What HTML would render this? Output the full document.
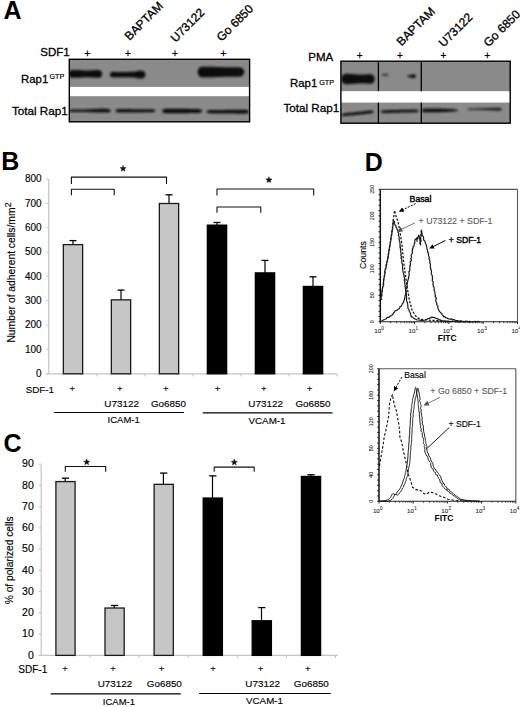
<!DOCTYPE html>
<html><head><meta charset="utf-8"><style>
html,body{margin:0;padding:0;background:#fff;}
svg{display:block;font-family:"Liberation Sans",sans-serif;}
</style></head><body>
<svg width="520" height="707" viewBox="0 0 520 707">
<defs>
<filter id="blur1" x="-20%" y="-50%" width="140%" height="200%"><feGaussianBlur stdDeviation="0.8"/></filter>
<marker id="arr" markerWidth="7" markerHeight="7" refX="1" refY="3" orient="auto" markerUnits="userSpaceOnUse"><path d="M0,3 L5,0.6 L5,5.4 Z" transform="rotate(180 2.5 3)" fill="#000"/></marker>
<marker id="arrg" markerWidth="8" markerHeight="8" refX="1" refY="3" orient="auto" markerUnits="userSpaceOnUse"><path d="M0,3 L5.5,0.4 L5.5,5.6 Z" transform="rotate(180 2.75 3)" fill="#555"/></marker>
</defs>
<rect width="520" height="707" fill="#fff"/>
<text x="3.5" y="18.5" font-size="25" text-anchor="start" font-weight="bold" fill="#000" >A</text>
<rect x="69.30" y="59.30" width="180.30" height="62.50" fill="#8a8a8a" stroke="none" stroke-width="1" />
<rect x="69.30" y="86.90" width="180.30" height="9.30" fill="#fff" stroke="none" stroke-width="1" />
<clipPath id="cl1"><rect x="69.3" y="59.3" width="180.30" height="62.50"/></clipPath>
<g clip-path="url(#cl1)"><g filter="url(#blur1)" fill="#141414">
<path d="M68.50,73.90 L69.20,71.50 L69.90,70.71 L70.61,70.25 L71.31,70.01 L72.01,69.93 L72.71,69.94 L73.41,69.95 L74.12,69.96 L74.82,69.96 L75.52,69.97 L76.22,69.98 L76.92,69.98 L77.63,69.99 L78.33,70.00 L79.03,70.03 L79.73,70.08 L80.44,70.13 L81.14,70.18 L81.84,70.23 L82.54,70.28 L83.24,70.33 L83.95,70.38 L84.65,70.43 L85.35,70.48 L86.05,70.53 L86.75,70.58 L87.46,70.58 L88.16,70.53 L88.86,70.49 L89.56,70.45 L90.26,70.41 L90.97,70.37 L91.67,70.33 L92.37,70.28 L93.07,70.24 L93.78,70.20 L94.48,70.16 L95.18,70.12 L95.88,70.10 L96.58,70.10 L97.29,70.10 L97.99,70.10 L98.69,70.10 L99.39,70.17 L100.09,70.41 L100.80,70.86 L101.50,71.62 L102.20,73.90 L102.20,73.90 L101.50,76.18 L100.80,76.94 L100.09,77.39 L99.39,77.63 L98.69,77.70 L97.99,77.70 L97.29,77.70 L96.58,77.70 L95.88,77.70 L95.18,77.68 L94.48,77.64 L93.78,77.60 L93.07,77.56 L92.37,77.52 L91.67,77.48 L90.97,77.43 L90.26,77.39 L89.56,77.35 L88.86,77.31 L88.16,77.27 L87.46,77.23 L86.75,77.22 L86.05,77.27 L85.35,77.32 L84.65,77.37 L83.95,77.42 L83.24,77.47 L82.54,77.52 L81.84,77.57 L81.14,77.62 L80.44,77.67 L79.73,77.72 L79.03,77.77 L78.33,77.80 L77.63,77.81 L76.92,77.82 L76.22,77.82 L75.52,77.83 L74.82,77.84 L74.12,77.84 L73.41,77.85 L72.71,77.86 L72.01,77.87 L71.31,77.79 L70.61,77.55 L69.90,77.09 L69.20,76.30 L68.50,73.90Z" fill="#111"/>
<path d="M109.70,74.60 L110.45,72.88 L111.19,72.32 L111.94,72.02 L112.68,71.87 L113.43,71.85 L114.17,71.86 L114.92,71.87 L115.67,71.88 L116.41,71.89 L117.16,71.90 L117.90,71.91 L118.65,71.92 L119.40,71.94 L120.14,71.95 L120.89,71.96 L121.63,71.97 L122.38,71.98 L123.12,71.99 L123.87,72.00 L124.62,71.98 L125.36,71.96 L126.11,71.94 L126.85,71.92 L127.60,71.90 L128.35,71.88 L129.09,71.86 L129.84,71.84 L130.58,71.82 L131.33,71.80 L132.07,71.77 L132.82,71.75 L133.57,71.73 L134.31,71.71 L135.06,71.62 L135.80,71.44 L136.55,71.25 L137.30,71.06 L138.04,70.88 L138.79,70.80 L139.53,70.80 L140.28,70.80 L141.03,70.80 L141.77,70.80 L142.52,70.84 L143.26,71.06 L144.01,71.49 L144.75,72.26 L145.50,74.60 L145.50,74.60 L144.75,76.94 L144.01,77.71 L143.26,78.14 L142.52,78.36 L141.77,78.40 L141.03,78.40 L140.28,78.40 L139.53,78.40 L138.79,78.40 L138.04,78.32 L137.30,78.14 L136.55,77.95 L135.80,77.76 L135.06,77.57 L134.31,77.49 L133.57,77.47 L132.82,77.45 L132.07,77.42 L131.33,77.40 L130.58,77.38 L129.84,77.36 L129.09,77.34 L128.35,77.32 L127.60,77.30 L126.85,77.28 L126.11,77.26 L125.36,77.24 L124.62,77.22 L123.87,77.20 L123.12,77.21 L122.38,77.22 L121.63,77.23 L120.89,77.24 L120.14,77.25 L119.40,77.26 L118.65,77.27 L117.90,77.29 L117.16,77.30 L116.41,77.31 L115.67,77.32 L114.92,77.33 L114.17,77.34 L113.43,77.35 L112.68,77.33 L111.94,77.18 L111.19,76.88 L110.45,76.32 L109.70,74.60Z" fill="#111"/>
<path d="M197.50,72.00 L198.48,68.75 L199.45,67.67 L200.43,67.05 L201.41,66.71 L202.39,66.61 L203.36,66.62 L204.34,66.65 L205.32,66.67 L206.29,66.69 L207.27,66.71 L208.25,66.73 L209.22,66.75 L210.20,66.77 L211.18,66.79 L212.16,66.82 L213.13,66.84 L214.11,66.87 L215.09,66.90 L216.06,66.93 L217.04,66.96 L218.02,66.98 L219.00,67.01 L219.97,67.04 L220.95,67.07 L221.93,67.09 L222.90,67.12 L223.88,67.15 L224.86,67.18 L225.84,67.20 L226.81,67.21 L227.79,67.22 L228.77,67.23 L229.74,67.24 L230.72,67.25 L231.70,67.26 L232.68,67.28 L233.65,67.29 L234.63,67.30 L235.61,67.31 L236.58,67.32 L237.56,67.33 L238.54,67.34 L239.51,67.35 L240.49,67.47 L241.47,67.78 L242.45,68.34 L243.42,69.26 L244.40,72.00 L244.40,72.00 L243.42,74.74 L242.45,75.66 L241.47,76.22 L240.49,76.53 L239.51,76.65 L238.54,76.66 L237.56,76.67 L236.58,76.68 L235.61,76.69 L234.63,76.70 L233.65,76.71 L232.68,76.72 L231.70,76.74 L230.72,76.75 L229.74,76.76 L228.77,76.77 L227.79,76.78 L226.81,76.79 L225.84,76.80 L224.86,76.82 L223.88,76.85 L222.90,76.88 L221.93,76.91 L220.95,76.93 L219.97,76.96 L219.00,76.99 L218.02,77.02 L217.04,77.04 L216.06,77.07 L215.09,77.10 L214.11,77.13 L213.13,77.16 L212.16,77.18 L211.18,77.21 L210.20,77.23 L209.22,77.25 L208.25,77.27 L207.27,77.29 L206.29,77.31 L205.32,77.33 L204.34,77.35 L203.36,77.38 L202.39,77.39 L201.41,77.29 L200.43,76.95 L199.45,76.33 L198.48,75.25 L197.50,72.00Z" fill="#111"/>
<path d="M68.50,110.70 L69.38,109.89 L70.27,109.62 L71.15,109.48 L72.03,109.41 L72.92,109.40 L73.80,109.40 L74.68,109.40 L75.57,109.40 L76.45,109.40 L77.33,109.40 L78.22,109.40 L79.10,109.40 L79.98,109.40 L80.87,109.40 L81.75,109.40 L82.63,109.40 L83.52,109.40 L84.40,109.40 L85.28,109.40 L86.17,109.37 L87.05,109.34 L87.93,109.30 L88.82,109.26 L89.70,109.23 L90.58,109.19 L91.47,109.16 L92.35,109.12 L93.23,109.09 L94.12,109.05 L95.00,109.01 L95.88,108.98 L96.77,108.94 L97.65,108.91 L98.53,108.87 L99.42,108.84 L100.30,108.80 L101.18,108.81 L102.07,108.82 L102.95,108.83 L103.83,108.83 L104.72,108.84 L105.60,108.85 L106.48,108.86 L107.37,108.88 L108.25,108.98 L109.13,109.19 L110.02,109.57 L110.90,110.70 L110.90,110.70 L110.02,111.83 L109.13,112.21 L108.25,112.42 L107.37,112.52 L106.48,112.54 L105.60,112.55 L104.72,112.56 L103.83,112.57 L102.95,112.58 L102.07,112.58 L101.18,112.59 L100.30,112.60 L99.42,112.56 L98.53,112.53 L97.65,112.49 L96.77,112.46 L95.88,112.42 L95.00,112.39 L94.12,112.35 L93.23,112.31 L92.35,112.28 L91.47,112.24 L90.58,112.21 L89.70,112.17 L88.82,112.14 L87.93,112.10 L87.05,112.06 L86.17,112.03 L85.28,112.00 L84.40,112.00 L83.52,112.00 L82.63,112.00 L81.75,112.00 L80.87,112.00 L79.98,112.00 L79.10,112.00 L78.22,112.00 L77.33,112.00 L76.45,112.00 L75.57,112.00 L74.68,112.00 L73.80,112.00 L72.92,112.00 L72.03,111.99 L71.15,111.92 L70.27,111.78 L69.38,111.51 L68.50,110.70Z" fill="#111"/>
<path d="M115.20,110.80 L116.04,109.80 L116.88,109.46 L117.73,109.25 L118.57,109.13 L119.41,109.06 L120.25,109.04 L121.09,109.05 L121.93,109.06 L122.78,109.06 L123.62,109.07 L124.46,109.08 L125.30,109.08 L126.14,109.09 L126.98,109.10 L127.83,109.10 L128.67,109.11 L129.51,109.12 L130.35,109.12 L131.19,109.13 L132.03,109.14 L132.88,109.15 L133.72,109.15 L134.56,109.16 L135.40,109.17 L136.24,109.17 L137.08,109.18 L137.93,109.19 L138.77,109.19 L139.61,109.20 L140.45,109.21 L141.29,109.21 L142.13,109.22 L142.97,109.22 L143.82,109.23 L144.66,109.23 L145.50,109.24 L146.34,109.24 L147.18,109.25 L148.03,109.25 L148.87,109.26 L149.71,109.26 L150.55,109.27 L151.39,109.29 L152.23,109.36 L153.07,109.48 L153.92,109.67 L154.76,109.96 L155.60,110.80 L155.60,110.80 L154.76,111.64 L153.92,111.93 L153.07,112.12 L152.23,112.24 L151.39,112.31 L150.55,112.33 L149.71,112.34 L148.87,112.34 L148.03,112.35 L147.18,112.35 L146.34,112.36 L145.50,112.36 L144.66,112.37 L143.82,112.37 L142.97,112.38 L142.13,112.38 L141.29,112.39 L140.45,112.39 L139.61,112.40 L138.77,112.41 L137.93,112.41 L137.08,112.42 L136.24,112.43 L135.40,112.43 L134.56,112.44 L133.72,112.45 L132.88,112.45 L132.03,112.46 L131.19,112.47 L130.35,112.47 L129.51,112.48 L128.67,112.49 L127.83,112.50 L126.98,112.50 L126.14,112.51 L125.30,112.52 L124.46,112.52 L123.62,112.53 L122.78,112.54 L121.93,112.54 L121.09,112.55 L120.25,112.56 L119.41,112.54 L118.57,112.47 L117.73,112.35 L116.88,112.14 L116.04,111.80 L115.20,110.80Z" fill="#111"/>
<path d="M161.90,111.00 L162.75,109.78 L163.59,109.35 L164.44,109.09 L165.28,108.92 L166.13,108.83 L166.97,108.80 L167.82,108.80 L168.67,108.80 L169.51,108.80 L170.36,108.80 L171.20,108.80 L172.05,108.80 L172.90,108.80 L173.74,108.80 L174.59,108.80 L175.43,108.80 L176.28,108.80 L177.12,108.80 L177.97,108.80 L178.82,108.80 L179.66,108.80 L180.51,108.80 L181.35,108.80 L182.20,108.80 L183.05,108.80 L183.89,108.80 L184.74,108.80 L185.58,108.80 L186.43,108.80 L187.28,108.83 L188.12,108.85 L188.97,108.87 L189.81,108.89 L190.66,108.91 L191.50,108.93 L192.35,108.95 L193.20,108.97 L194.04,108.99 L194.89,109.01 L195.73,109.03 L196.58,109.05 L197.43,109.08 L198.27,109.12 L199.12,109.22 L199.96,109.38 L200.81,109.62 L201.65,109.99 L202.50,111.00 L202.50,111.00 L201.65,112.01 L200.81,112.38 L199.96,112.62 L199.12,112.78 L198.27,112.88 L197.43,112.92 L196.58,112.95 L195.73,112.97 L194.89,112.99 L194.04,113.01 L193.20,113.03 L192.35,113.05 L191.50,113.07 L190.66,113.09 L189.81,113.11 L188.97,113.13 L188.12,113.15 L187.28,113.17 L186.43,113.20 L185.58,113.20 L184.74,113.20 L183.89,113.20 L183.05,113.20 L182.20,113.20 L181.35,113.20 L180.51,113.20 L179.66,113.20 L178.82,113.20 L177.97,113.20 L177.12,113.20 L176.28,113.20 L175.43,113.20 L174.59,113.20 L173.74,113.20 L172.90,113.20 L172.05,113.20 L171.20,113.20 L170.36,113.20 L169.51,113.20 L168.67,113.20 L167.82,113.20 L166.97,113.20 L166.13,113.17 L165.28,113.08 L164.44,112.91 L163.59,112.65 L162.75,112.22 L161.90,111.00Z" fill="#111"/>
<path d="M206.30,111.70 L207.20,110.78 L208.10,110.45 L209.00,110.25 L209.90,110.12 L210.80,110.06 L211.70,110.04 L212.60,110.03 L213.50,110.02 L214.40,110.01 L215.30,110.00 L216.20,109.99 L217.10,109.98 L218.00,109.96 L218.90,109.95 L219.80,109.94 L220.70,109.93 L221.60,109.92 L222.50,109.91 L223.40,109.90 L224.30,109.89 L225.20,109.88 L226.10,109.87 L227.00,109.86 L227.90,109.85 L228.80,109.84 L229.70,109.83 L230.60,109.82 L231.50,109.81 L232.40,109.80 L233.30,109.79 L234.20,109.79 L235.10,109.78 L236.00,109.78 L236.90,109.77 L237.80,109.77 L238.70,109.76 L239.60,109.76 L240.50,109.75 L241.40,109.75 L242.30,109.74 L243.20,109.74 L244.10,109.73 L245.00,109.74 L245.90,109.80 L246.80,109.94 L247.70,110.17 L248.60,110.56 L249.50,111.70 L249.50,111.70 L248.60,112.84 L247.70,113.23 L246.80,113.46 L245.90,113.60 L245.00,113.66 L244.10,113.67 L243.20,113.66 L242.30,113.66 L241.40,113.65 L240.50,113.65 L239.60,113.64 L238.70,113.64 L237.80,113.63 L236.90,113.63 L236.00,113.62 L235.10,113.62 L234.20,113.61 L233.30,113.61 L232.40,113.60 L231.50,113.59 L230.60,113.58 L229.70,113.57 L228.80,113.56 L227.90,113.55 L227.00,113.54 L226.10,113.53 L225.20,113.52 L224.30,113.51 L223.40,113.50 L222.50,113.49 L221.60,113.48 L220.70,113.47 L219.80,113.46 L218.90,113.45 L218.00,113.44 L217.10,113.42 L216.20,113.41 L215.30,113.40 L214.40,113.39 L213.50,113.38 L212.60,113.37 L211.70,113.36 L210.80,113.34 L209.90,113.28 L209.00,113.15 L208.10,112.95 L207.20,112.62 L206.30,111.70Z" fill="#111"/>
</g></g>
<rect x="69.30" y="59.30" width="180.30" height="62.50" fill="none" stroke="#000" stroke-width="1.4" />
<text x="40.3" y="56.2" font-size="11.5" text-anchor="start" font-weight="normal" fill="#000" stroke="#000" stroke-width="0.299" >SDF1</text>
<text x="87.4" y="56.8" font-size="10" text-anchor="middle" font-weight="normal" fill="#000" stroke="#000" stroke-width="0.26" >+</text>
<text x="127.9" y="56.8" font-size="10" text-anchor="middle" font-weight="normal" fill="#000" stroke="#000" stroke-width="0.26" >+</text>
<text x="174.9" y="56.8" font-size="10" text-anchor="middle" font-weight="normal" fill="#000" stroke="#000" stroke-width="0.26" >+</text>
<text x="223.4" y="56.8" font-size="10" text-anchor="middle" font-weight="normal" fill="#000" stroke="#000" stroke-width="0.26" >+</text>
<text x="21.0" y="82.8" font-size="11.4" text-anchor="start" font-weight="normal" fill="#000" stroke="#000" stroke-width="0.296" >Rap1</text>
<text x="49.5" y="79.3" font-size="7.2" text-anchor="start" font-weight="normal" fill="#000" stroke="#000" stroke-width="0.187" >GTP</text>
<text x="11.9" y="114.6" font-size="11.7" text-anchor="start" font-weight="normal" fill="#000" stroke="#000" stroke-width="0.304" >Total Rap1</text>
<text x="129.5" y="41" font-size="12.0" text-anchor="start" font-weight="normal" fill="#000" stroke="#000" stroke-width="0.312" transform="rotate(-45 129.5 41)">BAPTAM</text>
<text x="175.5" y="43" font-size="12.0" text-anchor="start" font-weight="normal" fill="#000" stroke="#000" stroke-width="0.312" transform="rotate(-45 175.5 43)">U73122</text>
<text x="221.5" y="42" font-size="12.0" text-anchor="start" font-weight="normal" fill="#000" stroke="#000" stroke-width="0.312" transform="rotate(-45 221.5 42)">Go 6850</text>
<rect x="340.90" y="61.20" width="169.30" height="62.00" fill="#8a8a8a" stroke="none" stroke-width="1" />
<rect x="340.90" y="91.20" width="169.30" height="11.40" fill="#fff" stroke="none" stroke-width="1" />
<clipPath id="cl2"><rect x="340.9" y="61.2" width="169.30" height="62.00"/></clipPath>
<g clip-path="url(#cl2)"><g filter="url(#blur1)" fill="#141414">
<path d="M341.00,79.00 L341.70,76.39 L342.41,75.45 L343.11,74.83 L343.82,74.39 L344.52,74.09 L345.23,73.89 L345.93,73.78 L346.63,73.74 L347.34,73.78 L348.04,73.82 L348.75,73.86 L349.45,73.90 L350.15,73.94 L350.86,73.98 L351.56,74.03 L352.27,74.07 L352.97,74.11 L353.68,74.15 L354.38,74.19 L355.08,74.23 L355.79,74.28 L356.49,74.32 L357.20,74.36 L357.90,74.40 L358.60,74.44 L359.31,74.48 L360.01,74.53 L360.72,74.57 L361.42,74.59 L362.12,74.56 L362.83,74.53 L363.53,74.49 L364.24,74.46 L364.94,74.43 L365.65,74.39 L366.35,74.36 L367.05,74.33 L367.76,74.29 L368.46,74.26 L369.17,74.23 L369.87,74.20 L370.57,74.21 L371.28,74.32 L371.98,74.55 L372.69,74.93 L373.39,75.51 L374.10,76.42 L374.80,79.00 L374.80,79.00 L374.10,81.58 L373.39,82.49 L372.69,83.07 L371.98,83.45 L371.28,83.68 L370.57,83.79 L369.87,83.80 L369.17,83.77 L368.46,83.74 L367.76,83.71 L367.05,83.67 L366.35,83.64 L365.65,83.61 L364.94,83.57 L364.24,83.54 L363.53,83.51 L362.83,83.47 L362.12,83.44 L361.42,83.41 L360.72,83.43 L360.01,83.47 L359.31,83.52 L358.60,83.56 L357.90,83.60 L357.20,83.64 L356.49,83.68 L355.79,83.72 L355.08,83.77 L354.38,83.81 L353.68,83.85 L352.97,83.89 L352.27,83.93 L351.56,83.97 L350.86,84.02 L350.15,84.06 L349.45,84.10 L348.75,84.14 L348.04,84.18 L347.34,84.22 L346.63,84.26 L345.93,84.22 L345.23,84.11 L344.52,83.91 L343.82,83.61 L343.11,83.17 L342.41,82.55 L341.70,81.61 L341.00,79.00Z" fill="#111"/>
<path d="M381.50,74.80 L381.65,74.56 L381.80,74.47 L381.96,74.39 L382.11,74.33 L382.26,74.28 L382.41,74.23 L382.56,74.18 L382.72,74.14 L382.87,74.11 L383.02,74.07 L383.17,74.04 L383.32,74.01 L383.48,73.98 L383.63,73.96 L383.78,73.93 L383.93,73.91 L384.09,73.89 L384.24,73.87 L384.39,73.86 L384.54,73.84 L384.69,73.83 L384.85,73.82 L385.00,73.81 L385.15,73.80 L385.30,73.81 L385.45,73.82 L385.61,73.83 L385.76,73.84 L385.91,73.86 L386.06,73.87 L386.21,73.89 L386.37,73.91 L386.52,73.93 L386.67,73.96 L386.82,73.98 L386.98,74.01 L387.13,74.04 L387.28,74.07 L387.43,74.11 L387.58,74.14 L387.74,74.18 L387.89,74.23 L388.04,74.28 L388.19,74.33 L388.34,74.39 L388.50,74.47 L388.65,74.56 L388.80,74.80 L388.80,74.80 L388.65,75.04 L388.50,75.13 L388.34,75.21 L388.19,75.27 L388.04,75.32 L387.89,75.37 L387.74,75.42 L387.58,75.46 L387.43,75.49 L387.28,75.53 L387.13,75.56 L386.98,75.59 L386.82,75.62 L386.67,75.64 L386.52,75.67 L386.37,75.69 L386.21,75.71 L386.06,75.73 L385.91,75.74 L385.76,75.76 L385.61,75.77 L385.45,75.78 L385.30,75.79 L385.15,75.80 L385.00,75.79 L384.85,75.78 L384.69,75.77 L384.54,75.76 L384.39,75.74 L384.24,75.73 L384.09,75.71 L383.93,75.69 L383.78,75.67 L383.63,75.64 L383.48,75.62 L383.32,75.59 L383.17,75.56 L383.02,75.53 L382.87,75.49 L382.72,75.46 L382.56,75.42 L382.41,75.37 L382.26,75.32 L382.11,75.27 L381.96,75.21 L381.80,75.13 L381.65,75.04 L381.50,74.80Z" fill="#2a2a2a"/>
<path d="M407.20,76.20 L407.38,75.89 L407.56,75.76 L407.74,75.65 L407.93,75.56 L408.11,75.48 L408.29,75.41 L408.47,75.35 L408.65,75.28 L408.83,75.23 L409.01,75.18 L409.19,75.14 L409.38,75.10 L409.56,75.06 L409.74,75.04 L409.92,75.01 L410.10,74.98 L410.28,74.96 L410.46,74.93 L410.64,74.91 L410.82,74.86 L411.01,74.81 L411.19,74.76 L411.37,74.72 L411.55,74.67 L411.73,74.62 L411.91,74.57 L412.09,74.52 L412.27,74.47 L412.46,74.42 L412.64,74.38 L412.82,74.33 L413.00,74.28 L413.18,74.23 L413.36,74.20 L413.54,74.20 L413.72,74.22 L413.91,74.24 L414.09,74.28 L414.27,74.32 L414.45,74.38 L414.63,74.46 L414.81,74.55 L414.99,74.66 L415.17,74.79 L415.36,74.95 L415.54,75.16 L415.72,75.45 L415.90,76.20 L415.90,76.20 L415.72,76.95 L415.54,77.24 L415.36,77.45 L415.17,77.61 L414.99,77.74 L414.81,77.85 L414.63,77.94 L414.45,78.02 L414.27,78.08 L414.09,78.12 L413.91,78.16 L413.72,78.18 L413.54,78.20 L413.36,78.20 L413.18,78.17 L413.00,78.12 L412.82,78.07 L412.64,78.03 L412.46,77.98 L412.27,77.93 L412.09,77.88 L411.91,77.83 L411.73,77.78 L411.55,77.73 L411.37,77.68 L411.19,77.64 L411.01,77.59 L410.82,77.54 L410.64,77.49 L410.46,77.47 L410.28,77.44 L410.10,77.42 L409.92,77.39 L409.74,77.36 L409.56,77.34 L409.38,77.30 L409.19,77.26 L409.01,77.22 L408.83,77.17 L408.65,77.12 L408.47,77.05 L408.29,76.99 L408.11,76.92 L407.93,76.84 L407.74,76.75 L407.56,76.64 L407.38,76.51 L407.20,76.20Z" fill="#111"/>
<path d="M341.50,115.00 L342.17,114.15 L342.85,113.81 L343.52,113.57 L344.19,113.39 L344.86,113.26 L345.54,113.17 L346.21,113.10 L346.88,113.03 L347.56,112.96 L348.23,112.89 L348.90,112.82 L349.57,112.75 L350.25,112.68 L350.92,112.61 L351.59,112.54 L352.27,112.47 L352.94,112.40 L353.61,112.33 L354.29,112.25 L354.96,112.18 L355.63,112.11 L356.30,112.04 L356.98,111.97 L357.65,111.90 L358.32,111.83 L359.00,111.76 L359.67,111.69 L360.34,111.62 L361.01,111.55 L361.69,111.47 L362.36,111.40 L363.03,111.33 L363.71,111.26 L364.38,111.19 L365.05,111.12 L365.73,111.05 L366.40,110.98 L367.07,110.91 L367.74,110.84 L368.42,110.77 L369.09,110.70 L369.76,110.62 L370.44,110.57 L371.11,110.57 L371.78,110.61 L372.45,110.72 L373.13,110.94 L373.80,111.70 L373.80,111.70 L373.13,112.60 L372.45,112.96 L371.78,113.20 L371.11,113.38 L370.44,113.51 L369.76,113.60 L369.09,113.67 L368.42,113.73 L367.74,113.80 L367.07,113.87 L366.40,113.93 L365.73,114.00 L365.05,114.07 L364.38,114.13 L363.71,114.20 L363.03,114.27 L362.36,114.33 L361.69,114.40 L361.01,114.47 L360.34,114.53 L359.67,114.60 L359.00,114.67 L358.32,114.73 L357.65,114.80 L356.98,114.87 L356.30,114.93 L355.63,115.00 L354.96,115.07 L354.29,115.13 L353.61,115.20 L352.94,115.27 L352.27,115.33 L351.59,115.40 L350.92,115.47 L350.25,115.53 L349.57,115.60 L348.90,115.67 L348.23,115.73 L347.56,115.80 L346.88,115.87 L346.21,115.93 L345.54,116.00 L344.86,116.05 L344.19,116.06 L343.52,116.02 L342.85,115.91 L342.17,115.71 L341.50,115.00Z" fill="#111"/>
<path d="M380.70,111.70 L381.49,110.85 L382.28,110.55 L383.07,110.37 L383.86,110.26 L384.65,110.21 L385.44,110.19 L386.23,110.17 L387.02,110.15 L387.81,110.13 L388.60,110.11 L389.39,110.09 L390.18,110.08 L390.96,110.06 L391.75,110.04 L392.54,110.02 L393.33,110.00 L394.12,109.98 L394.91,109.96 L395.70,109.94 L396.49,109.93 L397.28,109.91 L398.07,109.89 L398.86,109.87 L399.65,109.85 L400.44,109.83 L401.23,109.81 L402.02,109.80 L402.81,109.78 L403.60,109.76 L404.39,109.74 L405.18,109.72 L405.97,109.70 L406.76,109.68 L407.55,109.66 L408.34,109.65 L409.12,109.63 L409.91,109.61 L410.70,109.59 L411.49,109.57 L412.28,109.55 L413.07,109.53 L413.86,109.51 L414.65,109.50 L415.44,109.51 L416.23,109.58 L417.02,109.73 L417.81,109.99 L418.60,110.80 L418.60,110.80 L417.81,111.66 L417.02,111.95 L416.23,112.14 L415.44,112.25 L414.65,112.30 L413.86,112.31 L413.07,112.33 L412.28,112.35 L411.49,112.37 L410.70,112.39 L409.91,112.41 L409.12,112.43 L408.34,112.45 L407.55,112.46 L406.76,112.48 L405.97,112.50 L405.18,112.52 L404.39,112.54 L403.60,112.56 L402.81,112.58 L402.02,112.60 L401.23,112.61 L400.44,112.63 L399.65,112.65 L398.86,112.67 L398.07,112.69 L397.28,112.71 L396.49,112.73 L395.70,112.74 L394.91,112.76 L394.12,112.78 L393.33,112.80 L392.54,112.82 L391.75,112.84 L390.96,112.86 L390.18,112.88 L389.39,112.89 L388.60,112.91 L387.81,112.93 L387.02,112.95 L386.23,112.97 L385.44,112.99 L384.65,113.01 L383.86,112.99 L383.07,112.92 L382.28,112.78 L381.49,112.52 L380.70,111.70Z" fill="#111"/>
<path d="M421.50,110.40 L422.25,109.40 L423.01,109.04 L423.76,108.81 L424.52,108.66 L425.27,108.56 L426.02,108.51 L426.78,108.50 L427.53,108.50 L428.29,108.50 L429.04,108.50 L429.80,108.50 L430.55,108.50 L431.30,108.50 L432.06,108.50 L432.81,108.50 L433.57,108.50 L434.32,108.50 L435.07,108.50 L435.83,108.50 L436.58,108.52 L437.34,108.55 L438.09,108.57 L438.85,108.60 L439.60,108.62 L440.35,108.65 L441.11,108.68 L441.86,108.70 L442.62,108.73 L443.37,108.76 L444.12,108.78 L444.88,108.81 L445.63,108.83 L446.39,108.86 L447.14,108.89 L447.90,108.91 L448.65,108.94 L449.40,108.96 L450.16,108.99 L450.91,109.03 L451.67,109.07 L452.42,109.11 L453.18,109.16 L453.93,109.23 L454.68,109.33 L455.44,109.46 L456.19,109.62 L456.95,109.85 L457.70,110.40 L457.70,110.40 L456.95,110.95 L456.19,111.18 L455.44,111.34 L454.68,111.47 L453.93,111.57 L453.18,111.64 L452.42,111.69 L451.67,111.73 L450.91,111.78 L450.16,111.81 L449.40,111.84 L448.65,111.86 L447.90,111.89 L447.14,111.91 L446.39,111.94 L445.63,111.97 L444.88,111.99 L444.12,112.02 L443.37,112.04 L442.62,112.07 L441.86,112.10 L441.11,112.12 L440.35,112.15 L439.60,112.18 L438.85,112.20 L438.09,112.23 L437.34,112.25 L436.58,112.28 L435.83,112.30 L435.07,112.30 L434.32,112.30 L433.57,112.30 L432.81,112.30 L432.06,112.30 L431.30,112.30 L430.55,112.30 L429.80,112.30 L429.04,112.30 L428.29,112.30 L427.53,112.30 L426.78,112.30 L426.02,112.29 L425.27,112.24 L424.52,112.14 L423.76,111.99 L423.01,111.76 L422.25,111.40 L421.50,110.40Z" fill="#111"/>
<path d="M467.20,109.20 L467.92,108.79 L468.64,108.65 L469.36,108.55 L470.08,108.49 L470.80,108.45 L471.52,108.44 L472.25,108.43 L472.97,108.42 L473.69,108.41 L474.41,108.40 L475.13,108.39 L475.85,108.38 L476.57,108.36 L477.29,108.35 L478.01,108.34 L478.73,108.33 L479.45,108.32 L480.18,108.31 L480.90,108.30 L481.62,108.28 L482.34,108.25 L483.06,108.23 L483.78,108.20 L484.50,108.17 L485.22,108.15 L485.94,108.12 L486.66,108.10 L487.38,108.07 L488.10,108.04 L488.82,108.02 L489.55,107.99 L490.27,107.97 L490.99,107.94 L491.71,107.91 L492.43,107.89 L493.15,107.86 L493.87,107.84 L494.59,107.81 L495.31,107.78 L496.03,107.75 L496.75,107.72 L497.48,107.69 L498.20,107.66 L498.92,107.69 L499.64,107.77 L500.36,107.94 L501.08,108.24 L501.80,109.20 L501.80,109.20 L501.08,110.16 L500.36,110.46 L499.64,110.63 L498.92,110.71 L498.20,110.74 L497.48,110.71 L496.75,110.68 L496.03,110.65 L495.31,110.62 L494.59,110.59 L493.87,110.56 L493.15,110.54 L492.43,110.51 L491.71,110.49 L490.99,110.46 L490.27,110.43 L489.55,110.41 L488.82,110.38 L488.10,110.36 L487.38,110.33 L486.66,110.30 L485.94,110.28 L485.22,110.25 L484.50,110.23 L483.78,110.20 L483.06,110.17 L482.34,110.15 L481.62,110.12 L480.90,110.10 L480.18,110.09 L479.45,110.08 L478.73,110.07 L478.01,110.06 L477.29,110.05 L476.57,110.04 L475.85,110.03 L475.13,110.01 L474.41,110.00 L473.69,109.99 L472.97,109.98 L472.25,109.97 L471.52,109.96 L470.80,109.95 L470.08,109.91 L469.36,109.85 L468.64,109.75 L467.92,109.61 L467.20,109.20Z" fill="#202020"/>
</g></g>
<rect x="340.90" y="61.20" width="169.30" height="62.00" fill="none" stroke="#000" stroke-width="1.4" />
<line x1="378.40" y1="61.20" x2="378.40" y2="91.20" stroke="#000" stroke-width="1.3" />
<line x1="378.40" y1="102.60" x2="378.40" y2="123.20" stroke="#000" stroke-width="1.3" />
<line x1="421.30" y1="61.20" x2="421.30" y2="91.20" stroke="#000" stroke-width="1.3" />
<line x1="421.30" y1="102.60" x2="421.30" y2="123.20" stroke="#000" stroke-width="1.3" />
<text x="308.3" y="60.8" font-size="11.5" text-anchor="start" font-weight="normal" fill="#000" stroke="#000" stroke-width="0.299" >PMA</text>
<text x="359.6" y="58.9" font-size="10" text-anchor="middle" font-weight="normal" fill="#000" stroke="#000" stroke-width="0.26" >+</text>
<text x="400" y="58.9" font-size="10" text-anchor="middle" font-weight="normal" fill="#000" stroke="#000" stroke-width="0.26" >+</text>
<text x="443.5" y="58.9" font-size="10" text-anchor="middle" font-weight="normal" fill="#000" stroke="#000" stroke-width="0.26" >+</text>
<text x="487.5" y="58.9" font-size="10" text-anchor="middle" font-weight="normal" fill="#000" stroke="#000" stroke-width="0.26" >+</text>
<text x="290.0" y="86.9" font-size="11.4" text-anchor="start" font-weight="normal" fill="#000" stroke="#000" stroke-width="0.296" >Rap1</text>
<text x="319.2" y="84.6" font-size="7.2" text-anchor="start" font-weight="normal" fill="#000" stroke="#000" stroke-width="0.187" >GTP</text>
<text x="283.4" y="112.3" font-size="11.7" text-anchor="start" font-weight="normal" fill="#000" stroke="#000" stroke-width="0.304" >Total Rap1</text>
<text x="401.5" y="46.5" font-size="12.0" text-anchor="start" font-weight="normal" fill="#000" stroke="#000" stroke-width="0.312" transform="rotate(-45 401.5 46.5)">BAPTAM</text>
<text x="443.5" y="47.8" font-size="12.0" text-anchor="start" font-weight="normal" fill="#000" stroke="#000" stroke-width="0.312" transform="rotate(-45 443.5 47.8)">U73122</text>
<text x="488.5" y="47.5" font-size="12.0" text-anchor="start" font-weight="normal" fill="#000" stroke="#000" stroke-width="0.312" transform="rotate(-45 488.5 47.5)">Go 6850</text>
<text x="1.3" y="170" font-size="25" text-anchor="start" font-weight="bold" fill="#000" >B</text>
<line x1="48.80" y1="179.16" x2="48.80" y2="373.80" stroke="#c4c4c4" stroke-width="1.2" />
<line x1="46.20" y1="373.80" x2="48.80" y2="373.80" stroke="#c4c4c4" stroke-width="1" />
<text x="41.6" y="377.1" font-size="10" text-anchor="end" font-weight="normal" fill="#000" stroke="#000" stroke-width="0.14" >0</text>
<line x1="46.20" y1="349.47" x2="48.80" y2="349.47" stroke="#c4c4c4" stroke-width="1" />
<text x="41.6" y="352.77000000000004" font-size="10" text-anchor="end" font-weight="normal" fill="#000" stroke="#000" stroke-width="0.14" >100</text>
<line x1="46.20" y1="325.14" x2="48.80" y2="325.14" stroke="#c4c4c4" stroke-width="1" />
<text x="41.6" y="328.44" font-size="10" text-anchor="end" font-weight="normal" fill="#000" stroke="#000" stroke-width="0.14" >200</text>
<line x1="46.20" y1="300.81" x2="48.80" y2="300.81" stroke="#c4c4c4" stroke-width="1" />
<text x="41.6" y="304.11" font-size="10" text-anchor="end" font-weight="normal" fill="#000" stroke="#000" stroke-width="0.14" >300</text>
<line x1="46.20" y1="276.48" x2="48.80" y2="276.48" stroke="#c4c4c4" stroke-width="1" />
<text x="41.6" y="279.78000000000003" font-size="10" text-anchor="end" font-weight="normal" fill="#000" stroke="#000" stroke-width="0.14" >400</text>
<line x1="46.20" y1="252.15" x2="48.80" y2="252.15" stroke="#c4c4c4" stroke-width="1" />
<text x="41.6" y="255.45000000000005" font-size="10" text-anchor="end" font-weight="normal" fill="#000" stroke="#000" stroke-width="0.14" >500</text>
<line x1="46.20" y1="227.82" x2="48.80" y2="227.82" stroke="#c4c4c4" stroke-width="1" />
<text x="41.6" y="231.12000000000003" font-size="10" text-anchor="end" font-weight="normal" fill="#000" stroke="#000" stroke-width="0.14" >600</text>
<line x1="46.20" y1="203.49" x2="48.80" y2="203.49" stroke="#c4c4c4" stroke-width="1" />
<text x="41.6" y="206.79000000000002" font-size="10" text-anchor="end" font-weight="normal" fill="#000" stroke="#000" stroke-width="0.14" >700</text>
<line x1="46.20" y1="179.16" x2="48.80" y2="179.16" stroke="#c4c4c4" stroke-width="1" />
<text x="41.6" y="182.46000000000004" font-size="10" text-anchor="end" font-weight="normal" fill="#000" stroke="#000" stroke-width="0.14" >800</text>
<line x1="46.20" y1="373.80" x2="337.00" y2="373.80" stroke="#c4c4c4" stroke-width="1.2" />
<line x1="97.00" y1="373.80" x2="97.00" y2="376.40" stroke="#c4c4c4" stroke-width="1" />
<line x1="145.00" y1="373.80" x2="145.00" y2="376.40" stroke="#c4c4c4" stroke-width="1" />
<line x1="193.00" y1="373.80" x2="193.00" y2="376.40" stroke="#c4c4c4" stroke-width="1" />
<line x1="241.00" y1="373.80" x2="241.00" y2="376.40" stroke="#c4c4c4" stroke-width="1" />
<line x1="289.00" y1="373.80" x2="289.00" y2="376.40" stroke="#c4c4c4" stroke-width="1" />
<line x1="337.00" y1="373.80" x2="337.00" y2="376.40" stroke="#c4c4c4" stroke-width="1" />
<line x1="73.00" y1="240.59" x2="73.00" y2="244.61" stroke="#000" stroke-width="1.2" />
<line x1="69.50" y1="240.59" x2="76.50" y2="240.59" stroke="#000" stroke-width="1.3" />
<rect x="63.35" y="244.61" width="19.30" height="129.19" fill="#c6c6c6" stroke="#1a1a1a" stroke-width="1.3" />
<line x1="121.00" y1="290.10" x2="121.00" y2="299.84" stroke="#000" stroke-width="1.2" />
<line x1="117.50" y1="290.10" x2="124.50" y2="290.10" stroke="#000" stroke-width="1.3" />
<rect x="111.35" y="299.84" width="19.30" height="73.96" fill="#c6c6c6" stroke="#1a1a1a" stroke-width="1.3" />
<line x1="169.00" y1="194.80" x2="169.00" y2="203.49" stroke="#000" stroke-width="1.2" />
<line x1="165.50" y1="194.80" x2="172.50" y2="194.80" stroke="#000" stroke-width="1.3" />
<rect x="159.35" y="203.49" width="19.30" height="170.31" fill="#c6c6c6" stroke="#1a1a1a" stroke-width="1.3" />
<line x1="217.00" y1="222.47" x2="217.00" y2="225.14" stroke="#000" stroke-width="1.2" />
<line x1="213.50" y1="222.47" x2="220.50" y2="222.47" stroke="#000" stroke-width="1.3" />
<rect x="207.35" y="225.14" width="19.30" height="148.66" fill="#000" stroke="#000" stroke-width="1.3" />
<line x1="265.00" y1="260.42" x2="265.00" y2="272.90" stroke="#000" stroke-width="1.2" />
<line x1="261.50" y1="260.42" x2="268.50" y2="260.42" stroke="#000" stroke-width="1.3" />
<rect x="255.35" y="272.90" width="19.30" height="100.90" fill="#000" stroke="#000" stroke-width="1.3" />
<line x1="313.00" y1="276.80" x2="313.00" y2="286.46" stroke="#000" stroke-width="1.2" />
<line x1="309.50" y1="276.80" x2="316.50" y2="276.80" stroke="#000" stroke-width="1.3" />
<rect x="303.35" y="286.46" width="19.30" height="87.34" fill="#000" stroke="#000" stroke-width="1.3" />
<polyline points="71.4,184.0 71.4,177.1 166.5,177.1 166.5,184.0" fill="none" stroke="#111" stroke-width="1.1" stroke-linejoin="round" />
<polyline points="71.4,195.3 71.4,189.3 114.2,189.3 114.2,195.3" fill="none" stroke="#111" stroke-width="1.1" stroke-linejoin="round" />
<polyline points="217.0,195.4 217.0,189.0 313.7,189.0 313.7,195.4" fill="none" stroke="#111" stroke-width="1.1" stroke-linejoin="round" />
<polyline points="217.0,212.7 217.0,207.0 260.8,207.0 260.8,212.7" fill="none" stroke="#111" stroke-width="1.1" stroke-linejoin="round" />
<path d="M123.10,165.33 L123.95,167.46 L126.24,167.61 L124.48,169.08 L125.04,171.30 L123.10,170.08 L121.16,171.30 L121.72,169.08 L119.96,167.61 L122.25,167.46Z" fill="#111" stroke="#111" stroke-width="0.4" stroke-linejoin="round"/>
<path d="M268.90,176.63 L269.75,178.76 L272.04,178.91 L270.28,180.38 L270.84,182.60 L268.90,181.38 L266.96,182.60 L267.52,180.38 L265.76,178.91 L268.05,178.76Z" fill="#111" stroke="#111" stroke-width="0.4" stroke-linejoin="round"/>
<text x="25.7" y="393.1" font-size="9.8" text-anchor="start" font-weight="normal" fill="#000" stroke="#000" stroke-width="0.137" >SDF-1</text>
<text x="72.3" y="391.6" font-size="9.5" text-anchor="middle" font-weight="normal" fill="#000" stroke="#000" stroke-width="0.133" >+</text>
<text x="119.9" y="391.6" font-size="9.5" text-anchor="middle" font-weight="normal" fill="#000" stroke="#000" stroke-width="0.133" >+</text>
<text x="165.8" y="391.6" font-size="9.5" text-anchor="middle" font-weight="normal" fill="#000" stroke="#000" stroke-width="0.133" >+</text>
<text x="217.5" y="391.6" font-size="9.5" text-anchor="middle" font-weight="normal" fill="#000" stroke="#000" stroke-width="0.133" >+</text>
<text x="263.8" y="391.6" font-size="9.5" text-anchor="middle" font-weight="normal" fill="#000" stroke="#000" stroke-width="0.133" >+</text>
<text x="309.6" y="391.6" font-size="9.5" text-anchor="middle" font-weight="normal" fill="#000" stroke="#000" stroke-width="0.133" >+</text>
<text x="121.6" y="406.6" font-size="9.9" text-anchor="middle" font-weight="normal" fill="#000" stroke="#000" stroke-width="0.139" >U73122</text>
<text x="265.6" y="406.6" font-size="9.9" text-anchor="middle" font-weight="normal" fill="#000" stroke="#000" stroke-width="0.139" >U73122</text>
<text x="168.5" y="406.6" font-size="9.9" text-anchor="middle" font-weight="normal" fill="#000" stroke="#000" stroke-width="0.139" >Go6850</text>
<text x="313" y="406.6" font-size="9.9" text-anchor="middle" font-weight="normal" fill="#000" stroke="#000" stroke-width="0.139" >Go6850</text>
<line x1="53.80" y1="412.50" x2="184.00" y2="412.50" stroke="#000" stroke-width="1.2" />
<line x1="202.70" y1="412.80" x2="332.50" y2="412.80" stroke="#000" stroke-width="1.2" />
<text x="123.7" y="423.4" font-size="9.5" text-anchor="middle" font-weight="normal" fill="#000" stroke="#000" stroke-width="0.133" >ICAM-1</text>
<text x="267" y="423.6" font-size="9.8" text-anchor="middle" font-weight="normal" fill="#000" stroke="#000" stroke-width="0.137" >VCAM-1</text>
<text x="14.6" y="272.4" font-size="10.3" text-anchor="middle" font-weight="normal" fill="#000" stroke="#000" stroke-width="0.144" transform="rotate(-90 14.6 272.4)">Number of adherent cells/mm<tspan font-size="9.5" dy="-3.6">2</tspan></text>
<text x="3.4" y="451.8" font-size="25" text-anchor="start" font-weight="bold" fill="#000" >C</text>
<line x1="41.20" y1="464.15" x2="41.20" y2="655.40" stroke="#c4c4c4" stroke-width="1.2" />
<line x1="38.60" y1="655.40" x2="41.20" y2="655.40" stroke="#c4c4c4" stroke-width="1" />
<text x="33.8" y="658.6999999999999" font-size="10.5" text-anchor="end" font-weight="normal" fill="#000" stroke="#000" stroke-width="0.147" >0</text>
<line x1="38.60" y1="634.15" x2="41.20" y2="634.15" stroke="#c4c4c4" stroke-width="1" />
<text x="33.8" y="637.4499999999999" font-size="10.5" text-anchor="end" font-weight="normal" fill="#000" stroke="#000" stroke-width="0.147" >10</text>
<line x1="38.60" y1="612.90" x2="41.20" y2="612.90" stroke="#c4c4c4" stroke-width="1" />
<text x="33.8" y="616.1999999999999" font-size="10.5" text-anchor="end" font-weight="normal" fill="#000" stroke="#000" stroke-width="0.147" >20</text>
<line x1="38.60" y1="591.65" x2="41.20" y2="591.65" stroke="#c4c4c4" stroke-width="1" />
<text x="33.8" y="594.9499999999999" font-size="10.5" text-anchor="end" font-weight="normal" fill="#000" stroke="#000" stroke-width="0.147" >30</text>
<line x1="38.60" y1="570.40" x2="41.20" y2="570.40" stroke="#c4c4c4" stroke-width="1" />
<text x="33.8" y="573.6999999999999" font-size="10.5" text-anchor="end" font-weight="normal" fill="#000" stroke="#000" stroke-width="0.147" >40</text>
<line x1="38.60" y1="549.15" x2="41.20" y2="549.15" stroke="#c4c4c4" stroke-width="1" />
<text x="33.8" y="552.4499999999999" font-size="10.5" text-anchor="end" font-weight="normal" fill="#000" stroke="#000" stroke-width="0.147" >50</text>
<line x1="38.60" y1="527.90" x2="41.20" y2="527.90" stroke="#c4c4c4" stroke-width="1" />
<text x="33.8" y="531.1999999999999" font-size="10.5" text-anchor="end" font-weight="normal" fill="#000" stroke="#000" stroke-width="0.147" >60</text>
<line x1="38.60" y1="506.65" x2="41.20" y2="506.65" stroke="#c4c4c4" stroke-width="1" />
<text x="33.8" y="509.95" font-size="10.5" text-anchor="end" font-weight="normal" fill="#000" stroke="#000" stroke-width="0.147" >70</text>
<line x1="38.60" y1="485.40" x2="41.20" y2="485.40" stroke="#c4c4c4" stroke-width="1" />
<text x="33.8" y="488.7" font-size="10.5" text-anchor="end" font-weight="normal" fill="#000" stroke="#000" stroke-width="0.147" >80</text>
<line x1="38.60" y1="464.15" x2="41.20" y2="464.15" stroke="#c4c4c4" stroke-width="1" />
<text x="33.8" y="467.45" font-size="10.5" text-anchor="end" font-weight="normal" fill="#000" stroke="#000" stroke-width="0.147" >90</text>
<line x1="39.80" y1="655.40" x2="338.00" y2="655.40" stroke="#c4c4c4" stroke-width="1.2" />
<line x1="90.10" y1="655.40" x2="90.10" y2="658.00" stroke="#c4c4c4" stroke-width="1" />
<line x1="139.20" y1="655.40" x2="139.20" y2="658.00" stroke="#c4c4c4" stroke-width="1" />
<line x1="188.30" y1="655.40" x2="188.30" y2="658.00" stroke="#c4c4c4" stroke-width="1" />
<line x1="237.30" y1="655.40" x2="237.30" y2="658.00" stroke="#c4c4c4" stroke-width="1" />
<line x1="286.40" y1="655.40" x2="286.40" y2="658.00" stroke="#c4c4c4" stroke-width="1" />
<line x1="335.50" y1="655.40" x2="335.50" y2="658.00" stroke="#c4c4c4" stroke-width="1" />
<line x1="65.20" y1="478.17" x2="65.20" y2="481.57" stroke="#000" stroke-width="1.2" />
<line x1="61.90" y1="478.17" x2="69.10" y2="478.17" stroke="#000" stroke-width="1.3" />
<rect x="55.90" y="481.57" width="19.20" height="173.82" fill="#c6c6c6" stroke="#1a1a1a" stroke-width="1.3" />
<line x1="114.30" y1="605.46" x2="114.30" y2="608.01" stroke="#000" stroke-width="1.2" />
<line x1="111.00" y1="605.46" x2="118.20" y2="605.46" stroke="#000" stroke-width="1.3" />
<rect x="105.00" y="608.01" width="19.20" height="47.39" fill="#c6c6c6" stroke="#1a1a1a" stroke-width="1.3" />
<line x1="163.40" y1="473.07" x2="163.40" y2="484.34" stroke="#000" stroke-width="1.2" />
<line x1="160.10" y1="473.07" x2="167.30" y2="473.07" stroke="#000" stroke-width="1.3" />
<rect x="154.10" y="484.34" width="19.20" height="171.06" fill="#c6c6c6" stroke="#1a1a1a" stroke-width="1.3" />
<line x1="212.50" y1="475.84" x2="212.50" y2="498.04" stroke="#000" stroke-width="1.2" />
<line x1="209.20" y1="475.84" x2="216.40" y2="475.84" stroke="#000" stroke-width="1.3" />
<rect x="203.20" y="498.04" width="19.20" height="157.36" fill="#000" stroke="#000" stroke-width="1.3" />
<line x1="261.50" y1="607.59" x2="261.50" y2="620.76" stroke="#000" stroke-width="1.2" />
<line x1="258.20" y1="607.59" x2="265.40" y2="607.59" stroke="#000" stroke-width="1.3" />
<rect x="252.20" y="620.76" width="19.20" height="34.64" fill="#000" stroke="#000" stroke-width="1.3" />
<line x1="310.70" y1="474.77" x2="310.70" y2="476.47" stroke="#000" stroke-width="1.2" />
<line x1="307.40" y1="474.77" x2="314.60" y2="474.77" stroke="#000" stroke-width="1.3" />
<rect x="301.40" y="476.47" width="19.20" height="178.93" fill="#000" stroke="#000" stroke-width="1.3" />
<polyline points="65.3,471.7 65.3,466.5 105.7,466.5 105.7,471.7" fill="none" stroke="#111" stroke-width="1.1" stroke-linejoin="round" />
<polyline points="214.2,471.8 214.2,467.1 254.2,467.1 254.2,471.8" fill="none" stroke="#111" stroke-width="1.1" stroke-linejoin="round" />
<path d="M86.70,458.83 L87.55,460.96 L89.84,461.11 L88.08,462.58 L88.64,464.80 L86.70,463.58 L84.76,464.80 L85.32,462.58 L83.56,461.11 L85.85,460.96Z" fill="#111" stroke="#111" stroke-width="0.4" stroke-linejoin="round"/>
<path d="M234.30,459.03 L235.15,461.16 L237.44,461.31 L235.68,462.78 L236.24,465.00 L234.30,463.78 L232.36,465.00 L232.92,462.78 L231.16,461.31 L233.45,461.16Z" fill="#111" stroke="#111" stroke-width="0.4" stroke-linejoin="round"/>
<text x="18.3" y="672.5" font-size="10" text-anchor="start" font-weight="normal" fill="#000" stroke="#000" stroke-width="0.14" >SDF-1</text>
<text x="65" y="672.3" font-size="9.5" text-anchor="middle" font-weight="normal" fill="#000" stroke="#000" stroke-width="0.133" >+</text>
<text x="113.1" y="672.3" font-size="9.5" text-anchor="middle" font-weight="normal" fill="#000" stroke="#000" stroke-width="0.133" >+</text>
<text x="161.5" y="672.3" font-size="9.5" text-anchor="middle" font-weight="normal" fill="#000" stroke="#000" stroke-width="0.133" >+</text>
<text x="213.1" y="672.3" font-size="9.5" text-anchor="middle" font-weight="normal" fill="#000" stroke="#000" stroke-width="0.133" >+</text>
<text x="260.5" y="672.3" font-size="9.5" text-anchor="middle" font-weight="normal" fill="#000" stroke="#000" stroke-width="0.133" >+</text>
<text x="307.9" y="672.3" font-size="9.5" text-anchor="middle" font-weight="normal" fill="#000" stroke="#000" stroke-width="0.133" >+</text>
<text x="115" y="687.2" font-size="9.9" text-anchor="middle" font-weight="normal" fill="#000" stroke="#000" stroke-width="0.139" >U73122</text>
<text x="262.6" y="687.2" font-size="9.9" text-anchor="middle" font-weight="normal" fill="#000" stroke="#000" stroke-width="0.139" >U73122</text>
<text x="164.3" y="687.2" font-size="9.9" text-anchor="middle" font-weight="normal" fill="#000" stroke="#000" stroke-width="0.139" >Go6850</text>
<text x="311.3" y="687.2" font-size="9.9" text-anchor="middle" font-weight="normal" fill="#000" stroke="#000" stroke-width="0.139" >Go6850</text>
<line x1="50.70" y1="693.80" x2="180.80" y2="693.80" stroke="#000" stroke-width="1.2" />
<line x1="199.20" y1="693.50" x2="330.80" y2="693.50" stroke="#000" stroke-width="1.2" />
<text x="118.9" y="704.6" font-size="9.5" text-anchor="middle" font-weight="normal" fill="#000" stroke="#000" stroke-width="0.133" >ICAM-1</text>
<text x="264.5" y="703.8" font-size="9.8" text-anchor="middle" font-weight="normal" fill="#000" stroke="#000" stroke-width="0.137" >VCAM-1</text>
<text x="13.1" y="560.3" font-size="10.2" text-anchor="middle" font-weight="normal" fill="#000" stroke="#000" stroke-width="0.143" transform="rotate(-90 13.1 560.3)">% of polarized cells</text>
<text x="364.7" y="170.6" font-size="25" text-anchor="start" font-weight="bold" fill="#000" >D</text>
<text x="374.3" y="189.4" font-size="5.3" text-anchor="middle" font-weight="normal" fill="#111" stroke="#111" stroke-width="0.074" transform="rotate(-90 374.3 189.40)">250</text>
<text x="374.3" y="215.88" font-size="5.3" text-anchor="middle" font-weight="normal" fill="#111" stroke="#111" stroke-width="0.074" transform="rotate(-90 374.3 215.88)">200</text>
<text x="374.3" y="242.36" font-size="5.3" text-anchor="middle" font-weight="normal" fill="#111" stroke="#111" stroke-width="0.074" transform="rotate(-90 374.3 242.36)">150</text>
<text x="374.3" y="268.84000000000003" font-size="5.3" text-anchor="middle" font-weight="normal" fill="#111" stroke="#111" stroke-width="0.074" transform="rotate(-90 374.3 268.84)">100</text>
<text x="374.3" y="295.32" font-size="5.3" text-anchor="middle" font-weight="normal" fill="#111" stroke="#111" stroke-width="0.074" transform="rotate(-90 374.3 295.32)">50</text>
<text x="374.3" y="321.8" font-size="5.3" text-anchor="middle" font-weight="normal" fill="#111" stroke="#111" stroke-width="0.074" transform="rotate(-90 374.3 321.80)">0</text>
<line x1="378.50" y1="321.80" x2="380.30" y2="321.80" stroke="#000" stroke-width="0.9" />
<line x1="378.50" y1="316.50" x2="380.30" y2="316.50" stroke="#000" stroke-width="0.9" />
<line x1="378.50" y1="311.21" x2="380.30" y2="311.21" stroke="#000" stroke-width="0.9" />
<line x1="378.50" y1="305.91" x2="380.30" y2="305.91" stroke="#000" stroke-width="0.9" />
<line x1="378.50" y1="300.62" x2="380.30" y2="300.62" stroke="#000" stroke-width="0.9" />
<line x1="378.50" y1="295.32" x2="380.30" y2="295.32" stroke="#000" stroke-width="0.9" />
<line x1="378.50" y1="290.02" x2="380.30" y2="290.02" stroke="#000" stroke-width="0.9" />
<line x1="378.50" y1="284.73" x2="380.30" y2="284.73" stroke="#000" stroke-width="0.9" />
<line x1="378.50" y1="279.43" x2="380.30" y2="279.43" stroke="#000" stroke-width="0.9" />
<line x1="378.50" y1="274.14" x2="380.30" y2="274.14" stroke="#000" stroke-width="0.9" />
<line x1="378.50" y1="268.84" x2="380.30" y2="268.84" stroke="#000" stroke-width="0.9" />
<line x1="378.50" y1="263.54" x2="380.30" y2="263.54" stroke="#000" stroke-width="0.9" />
<line x1="378.50" y1="258.25" x2="380.30" y2="258.25" stroke="#000" stroke-width="0.9" />
<line x1="378.50" y1="252.95" x2="380.30" y2="252.95" stroke="#000" stroke-width="0.9" />
<line x1="378.50" y1="247.66" x2="380.30" y2="247.66" stroke="#000" stroke-width="0.9" />
<line x1="378.50" y1="242.36" x2="380.30" y2="242.36" stroke="#000" stroke-width="0.9" />
<line x1="378.50" y1="237.06" x2="380.30" y2="237.06" stroke="#000" stroke-width="0.9" />
<line x1="378.50" y1="231.77" x2="380.30" y2="231.77" stroke="#000" stroke-width="0.9" />
<line x1="378.50" y1="226.47" x2="380.30" y2="226.47" stroke="#000" stroke-width="0.9" />
<line x1="378.50" y1="221.18" x2="380.30" y2="221.18" stroke="#000" stroke-width="0.9" />
<line x1="378.50" y1="215.88" x2="380.30" y2="215.88" stroke="#000" stroke-width="0.9" />
<line x1="378.50" y1="210.58" x2="380.30" y2="210.58" stroke="#000" stroke-width="0.9" />
<line x1="378.50" y1="205.29" x2="380.30" y2="205.29" stroke="#000" stroke-width="0.9" />
<line x1="378.50" y1="199.99" x2="380.30" y2="199.99" stroke="#000" stroke-width="0.9" />
<line x1="378.50" y1="194.70" x2="380.30" y2="194.70" stroke="#000" stroke-width="0.9" />
<line x1="378.50" y1="189.40" x2="380.30" y2="189.40" stroke="#000" stroke-width="0.9" />
<text x="381.1" y="333.0" font-size="6.2" text-anchor="end" font-weight="normal" fill="#222" stroke="#222" stroke-width="0.087" >10</text>
<text x="381.3" y="330.1" font-size="4.6" text-anchor="start" font-weight="normal" fill="#222" stroke="#222" stroke-width="0.064" >0</text>
<line x1="390.63" y1="321.80" x2="390.63" y2="323.20" stroke="#000" stroke-width="0.8" />
<line x1="396.67" y1="321.80" x2="396.67" y2="323.20" stroke="#000" stroke-width="0.8" />
<line x1="400.95" y1="321.80" x2="400.95" y2="323.20" stroke="#000" stroke-width="0.8" />
<line x1="404.27" y1="321.80" x2="404.27" y2="323.20" stroke="#000" stroke-width="0.8" />
<line x1="406.99" y1="321.80" x2="406.99" y2="323.20" stroke="#000" stroke-width="0.8" />
<line x1="409.29" y1="321.80" x2="409.29" y2="323.20" stroke="#000" stroke-width="0.8" />
<line x1="411.28" y1="321.80" x2="411.28" y2="323.20" stroke="#000" stroke-width="0.8" />
<line x1="413.03" y1="321.80" x2="413.03" y2="323.20" stroke="#000" stroke-width="0.8" />
<line x1="380.30" y1="321.80" x2="380.30" y2="324.00" stroke="#000" stroke-width="0.9" />
<text x="415.40000000000003" y="333.0" font-size="6.2" text-anchor="end" font-weight="normal" fill="#222" stroke="#222" stroke-width="0.087" >10</text>
<text x="415.6" y="330.1" font-size="4.6" text-anchor="start" font-weight="normal" fill="#222" stroke="#222" stroke-width="0.064" >1</text>
<line x1="424.93" y1="321.80" x2="424.93" y2="323.20" stroke="#000" stroke-width="0.8" />
<line x1="430.97" y1="321.80" x2="430.97" y2="323.20" stroke="#000" stroke-width="0.8" />
<line x1="435.25" y1="321.80" x2="435.25" y2="323.20" stroke="#000" stroke-width="0.8" />
<line x1="438.57" y1="321.80" x2="438.57" y2="323.20" stroke="#000" stroke-width="0.8" />
<line x1="441.29" y1="321.80" x2="441.29" y2="323.20" stroke="#000" stroke-width="0.8" />
<line x1="443.59" y1="321.80" x2="443.59" y2="323.20" stroke="#000" stroke-width="0.8" />
<line x1="445.58" y1="321.80" x2="445.58" y2="323.20" stroke="#000" stroke-width="0.8" />
<line x1="447.33" y1="321.80" x2="447.33" y2="323.20" stroke="#000" stroke-width="0.8" />
<line x1="414.60" y1="321.80" x2="414.60" y2="324.00" stroke="#000" stroke-width="0.9" />
<text x="449.7" y="333.0" font-size="6.2" text-anchor="end" font-weight="normal" fill="#222" stroke="#222" stroke-width="0.087" >10</text>
<text x="449.9" y="330.1" font-size="4.6" text-anchor="start" font-weight="normal" fill="#222" stroke="#222" stroke-width="0.064" >2</text>
<line x1="459.23" y1="321.80" x2="459.23" y2="323.20" stroke="#000" stroke-width="0.8" />
<line x1="465.27" y1="321.80" x2="465.27" y2="323.20" stroke="#000" stroke-width="0.8" />
<line x1="469.55" y1="321.80" x2="469.55" y2="323.20" stroke="#000" stroke-width="0.8" />
<line x1="472.87" y1="321.80" x2="472.87" y2="323.20" stroke="#000" stroke-width="0.8" />
<line x1="475.59" y1="321.80" x2="475.59" y2="323.20" stroke="#000" stroke-width="0.8" />
<line x1="477.89" y1="321.80" x2="477.89" y2="323.20" stroke="#000" stroke-width="0.8" />
<line x1="479.88" y1="321.80" x2="479.88" y2="323.20" stroke="#000" stroke-width="0.8" />
<line x1="481.63" y1="321.80" x2="481.63" y2="323.20" stroke="#000" stroke-width="0.8" />
<line x1="448.90" y1="321.80" x2="448.90" y2="324.00" stroke="#000" stroke-width="0.9" />
<text x="484.0" y="333.0" font-size="6.2" text-anchor="end" font-weight="normal" fill="#222" stroke="#222" stroke-width="0.087" >10</text>
<text x="484.2" y="330.1" font-size="4.6" text-anchor="start" font-weight="normal" fill="#222" stroke="#222" stroke-width="0.064" >3</text>
<line x1="493.53" y1="321.80" x2="493.53" y2="323.20" stroke="#000" stroke-width="0.8" />
<line x1="499.57" y1="321.80" x2="499.57" y2="323.20" stroke="#000" stroke-width="0.8" />
<line x1="503.85" y1="321.80" x2="503.85" y2="323.20" stroke="#000" stroke-width="0.8" />
<line x1="507.17" y1="321.80" x2="507.17" y2="323.20" stroke="#000" stroke-width="0.8" />
<line x1="509.89" y1="321.80" x2="509.89" y2="323.20" stroke="#000" stroke-width="0.8" />
<line x1="512.19" y1="321.80" x2="512.19" y2="323.20" stroke="#000" stroke-width="0.8" />
<line x1="514.18" y1="321.80" x2="514.18" y2="323.20" stroke="#000" stroke-width="0.8" />
<line x1="515.93" y1="321.80" x2="515.93" y2="323.20" stroke="#000" stroke-width="0.8" />
<line x1="483.20" y1="321.80" x2="483.20" y2="324.00" stroke="#000" stroke-width="0.9" />
<text x="518.3" y="333.0" font-size="6.2" text-anchor="end" font-weight="normal" fill="#222" stroke="#222" stroke-width="0.087" >10</text>
<text x="518.5" y="330.1" font-size="4.6" text-anchor="start" font-weight="normal" fill="#222" stroke="#222" stroke-width="0.064" >4</text>
<line x1="517.50" y1="321.80" x2="517.50" y2="324.00" stroke="#000" stroke-width="0.9" />
<line x1="380.30" y1="189.40" x2="517.50" y2="189.40" stroke="#555" stroke-width="1.1" />
<line x1="517.50" y1="189.40" x2="517.50" y2="321.80" stroke="#555" stroke-width="1.1" />
<line x1="380.30" y1="321.80" x2="517.50" y2="321.80" stroke="#222" stroke-width="1.1" />
<line x1="380.30" y1="189.40" x2="380.30" y2="321.80" stroke="#111" stroke-width="1.5" />
<text x="437.7" y="341" font-size="8.5" text-anchor="start" font-weight="bold" fill="#000" >FITC</text>
<text x="366.3" y="255" font-size="8.8" text-anchor="middle" font-weight="normal" fill="#000" stroke="#000" stroke-width="0.123" transform="rotate(-90 366.3 255)">Counts</text>
<polyline points="381.2,296.0 383.0,285.0 385.0,272.0 388.0,257.7 390.2,244.0 392.7,225.5 394.5,210.5 396.0,216.0 398.3,223.0 400.4,234.0 402.0,245.0 403.3,258.6 403.7,262.0 406.5,283.0 409.4,300.4 412.3,310.8 417.0,317.7 422.0,319.5 430.0,320.2 440.0,320.8 455.0,321.5 470.0,321.8" fill="none" stroke="#111" stroke-width="1.25" stroke-linejoin="round" stroke-dasharray="2.2,1.6"/>
<polyline points="381.6,300.0 381.7,299.0 381.0,298.0 381.2,297.0 381.9,296.0 381.9,295.0 381.9,294.0 381.7,293.0 382.1,292.0 382.3,291.0 382.4,290.0 382.2,289.0 382.6,288.0 382.7,287.0 383.2,286.0 383.6,285.1 383.7,284.1 383.5,283.0 383.6,282.0 383.6,281.0 383.5,279.9 383.7,278.9 384.2,278.0 384.2,277.0 384.4,276.0 384.9,275.0 384.7,274.0 384.9,273.0 384.8,272.0 384.8,270.9 385.2,270.0 385.2,269.0 385.7,268.0 386.2,267.1 386.1,266.0 385.9,265.0 386.6,264.1 386.7,263.1 387.0,261.9 387.4,260.9 387.5,259.8 387.8,258.6 387.6,257.6 388.3,256.6 388.4,255.6 388.0,254.5 388.6,253.6 388.7,252.6 388.7,251.5 388.9,250.5 389.0,249.5 389.5,248.6 389.3,247.5 389.7,246.6 389.6,245.5 390.2,244.6 390.3,243.6 390.2,242.6 390.5,241.6 390.9,240.7 390.9,239.7 390.9,238.6 390.9,237.6 391.2,236.7 391.7,235.7 391.4,234.6 392.1,233.6 391.7,232.4 392.4,231.4 392.1,230.3 392.7,229.3 392.7,228.2 392.7,227.1 392.8,226.0 393.1,225.0 393.1,224.0 393.1,223.0 393.1,222.0 393.5,221.0 393.3,220.1 393.9,221.0 394.6,221.9 394.4,223.1 394.8,224.1 395.1,225.1 396.0,225.9 395.9,227.1 396.8,227.9 396.8,229.1 397.6,230.1 398.1,231.1 398.0,232.3 398.8,233.3 398.6,234.4 398.4,235.5 399.1,236.5 399.2,237.6 398.8,238.7 399.4,239.7 399.3,240.8 399.9,241.8 399.8,242.9 400.1,243.9 399.9,245.0 400.4,246.0 399.8,247.0 400.7,248.0 400.2,249.0 400.9,250.0 400.8,251.0 400.5,252.0 401.1,253.0 401.2,254.0 400.8,255.0 401.2,256.0 401.6,257.0 400.9,258.1 401.7,259.0 401.9,260.0 401.8,261.0 401.7,262.0 401.8,263.0 402.4,264.0 402.4,265.0 402.7,266.0 402.5,267.0 402.5,268.1 402.7,269.1 402.7,270.1 403.0,271.2 403.1,272.2 403.4,273.2 403.7,274.2 404.1,275.2 403.9,276.3 404.3,277.3 404.6,278.3 404.5,279.3 404.2,280.4 404.9,281.3 404.7,282.4 404.9,283.4 404.9,284.4 405.3,285.4 404.8,286.5 405.5,287.5 405.3,288.5 405.5,289.5 406.0,290.5 405.6,291.6 406.1,292.5 406.2,293.5 406.4,294.5 406.4,295.5 406.6,296.5 406.4,297.6 406.7,298.6 406.4,299.6 406.6,300.6 406.8,301.6 407.5,302.5 407.5,303.5 407.8,304.5 407.7,305.5 407.9,306.5 407.9,307.5 408.1,308.6 408.8,309.4 409.1,310.5 409.4,311.5 410.1,312.4 410.5,313.4 410.5,314.5 411.1,315.4 411.1,316.6 412.3,317.1 413.3,317.8 414.1,318.6 415.1,319.0 416.1,319.4 417.0,320.0 418.0,320.0 419.0,320.0 420.0,320.3 421.0,320.1 422.0,320.5 423.0,320.5 424.0,320.3 425.0,320.0 426.0,319.6 427.0,319.3 427.9,318.5 429.0,318.4 430.0,318.2 430.9,317.6 431.9,317.1 432.9,317.3 434.0,317.3 435.0,317.8 435.9,318.5 437.0,318.6 438.0,318.9 438.6,319.8 439.7,319.9 440.8,320.2 441.5,321.1 442.6,320.8 443.6,321.0 444.7,321.5 445.7,321.4 446.8,321.0 447.9,321.4 448.9,321.5 450.0,321.6 451.0,321.4 452.0,321.7 453.0,321.3 454.0,321.5 455.0,321.5 456.0,322.0 457.0,321.3 458.0,321.9 459.0,321.4 460.0,321.8 461.0,321.6 462.0,321.7 463.0,321.9 464.0,321.7 465.0,321.4 466.0,321.5 467.0,321.4 468.0,322.1 469.0,321.9 470.0,321.8" fill="none" stroke="#1a1a1a" stroke-width="1.2" stroke-linejoin="round" />
<polyline points="381.1,321.1 382.4,320.7 383.4,319.9 384.7,319.5 385.9,319.0 386.8,317.9 387.6,317.3 389.0,317.4 389.6,316.4 390.5,315.8 391.9,315.7 392.2,314.6 393.2,314.0 393.6,312.9 394.4,312.2 394.8,311.0 396.1,310.7 397.2,310.2 398.0,309.2 399.2,308.7 399.8,307.8 400.0,306.6 401.2,306.2 401.7,305.2 402.2,304.2 402.5,303.4 403.6,302.5 403.5,301.4 404.1,300.3 404.5,299.3 404.6,298.2 405.1,297.2 404.9,296.0 405.5,295.0 405.4,293.8 406.1,292.9 406.2,291.8 405.7,290.6 405.9,289.5 406.2,288.5 407.1,287.5 406.8,286.4 407.2,285.3 407.1,284.2 407.4,283.2 407.5,282.1 407.7,281.0 408.1,280.0 408.2,279.0 408.7,278.1 408.6,277.0 409.0,276.1 409.0,275.0 409.3,274.1 409.1,273.0 408.7,272.0 409.6,271.1 409.8,270.1 409.9,269.1 409.7,268.0 410.0,267.0 409.7,266.0 410.5,265.1 410.4,264.0 410.2,263.0 410.2,261.9 411.1,261.0 411.4,259.9 410.7,258.7 411.5,257.7 411.3,256.5 411.2,255.4 411.5,254.4 412.2,253.4 412.5,252.3 411.9,251.1 412.7,250.2 412.3,249.0 413.2,248.1 413.0,247.0 413.9,246.0 414.3,244.9 414.2,243.6 415.0,242.7 414.7,241.2 414.9,239.8 415.9,239.0 416.8,237.9 416.8,239.1 416.9,240.3 417.1,241.5 416.9,240.4 417.0,239.4 418.0,238.6 417.6,237.5 418.4,236.7 418.5,235.1 419.2,236.0 419.4,237.0 419.6,238.0 419.7,239.0 419.8,240.0 420.0,241.0 420.0,242.0 419.8,243.1 420.4,244.0 420.4,245.0 420.8,244.0 420.3,243.0 420.5,242.0 421.2,241.0 420.8,240.0 420.9,239.0 420.4,238.0 420.9,237.0 421.1,236.0 420.6,235.0 421.2,234.0 421.4,232.8 421.0,231.4 421.5,230.2 421.8,231.3 421.7,232.3 422.2,233.4 422.0,234.5 422.1,235.6 423.2,236.3 423.6,237.3 423.5,238.8 423.8,240.2 424.9,241.0 425.1,242.2 425.5,243.4 426.2,244.5 426.4,245.6 426.7,246.6 426.9,247.7 427.0,248.9 427.5,249.9 427.7,251.0 427.6,252.2 428.6,253.1 428.4,254.4 428.5,255.5 429.1,256.5 429.3,257.6 428.9,258.7 429.6,259.7 429.8,260.7 429.8,261.8 429.7,262.9 430.4,263.9 430.4,265.0 430.5,266.1 430.2,267.2 430.8,268.2 430.6,269.4 431.4,270.4 431.5,271.5 431.3,272.6 431.2,273.7 431.8,274.7 432.2,275.7 432.5,276.7 432.2,277.8 432.7,278.8 432.2,280.0 432.4,281.1 433.2,281.9 433.2,283.0 432.9,284.0 433.2,285.0 433.2,286.0 433.8,287.0 434.2,287.9 434.2,289.0 433.9,290.1 434.7,291.1 434.8,292.2 434.9,293.3 435.2,294.3 435.4,295.4 435.1,296.6 436.1,297.5 436.4,298.6 435.7,299.8 436.0,300.9 436.1,302.0 436.9,303.0 436.7,304.2 437.0,305.2 438.0,306.1 437.8,307.3 438.0,308.4 438.5,309.4 439.0,310.4 439.5,311.4 440.2,312.2 441.0,313.0 441.9,313.7 442.2,314.9 443.2,315.5 443.7,316.8 444.9,316.5 445.6,317.6 446.6,317.8 447.5,318.4 448.5,318.8 449.5,319.2 450.6,319.1 451.7,318.8 452.5,319.8 453.6,319.5 454.6,319.9 455.5,320.5 456.5,320.6 457.5,320.6 458.5,321.2 459.5,321.0 460.6,320.8 461.6,320.9 462.5,321.6 463.6,321.3 464.6,321.7 465.6,321.3 466.7,321.2 467.7,321.5 468.7,321.8 469.7,321.2 470.8,321.9 471.8,322.0 472.8,321.9 473.8,322.0 474.9,321.2 475.9,321.8 476.9,322.1 478.0,321.3 479.0,321.5 480.0,321.8" fill="none" stroke="#1a1a1a" stroke-width="1.2" stroke-linejoin="round" />
<text x="409.6" y="201.5" font-size="8.7" text-anchor="start" font-weight="normal" fill="#000" stroke="#000" stroke-width="0.4" >Basal</text>
<text x="418.6" y="223.5" font-size="8.8" text-anchor="start" font-weight="normal" fill="#5a5a5a" stroke="#5a5a5a" stroke-width="0.123" >+ U73122 + SDF-1</text>
<text x="448.8" y="242.7" font-size="8.6" text-anchor="start" font-weight="normal" fill="#000" stroke="#000" stroke-width="0.4" >+ SDF-1</text>
<line x1="415.60" y1="203.60" x2="402.40" y2="209.95" stroke="#000" stroke-width="1" stroke-dasharray="2,1.3" marker-end="url(#arr)"/>
<line x1="414.80" y1="222.90" x2="401.10" y2="229.50" stroke="#666" stroke-width="0.9" marker-end="url(#arrg)"/>
<line x1="445.50" y1="240.40" x2="432.80" y2="246.80" stroke="#000" stroke-width="1" marker-end="url(#arr)"/>
<text x="373.0" y="368.8" font-size="5.3" text-anchor="middle" font-weight="normal" fill="#111" stroke="#111" stroke-width="0.074" transform="rotate(-90 373.0 368.80)">200</text>
<text x="373.0" y="395.3" font-size="5.3" text-anchor="middle" font-weight="normal" fill="#111" stroke="#111" stroke-width="0.074" transform="rotate(-90 373.0 395.30)">160</text>
<text x="373.0" y="421.8" font-size="5.3" text-anchor="middle" font-weight="normal" fill="#111" stroke="#111" stroke-width="0.074" transform="rotate(-90 373.0 421.80)">120</text>
<text x="373.0" y="448.3" font-size="5.3" text-anchor="middle" font-weight="normal" fill="#111" stroke="#111" stroke-width="0.074" transform="rotate(-90 373.0 448.30)">80</text>
<text x="373.0" y="474.8" font-size="5.3" text-anchor="middle" font-weight="normal" fill="#111" stroke="#111" stroke-width="0.074" transform="rotate(-90 373.0 474.80)">40</text>
<text x="373.0" y="501.3" font-size="5.3" text-anchor="middle" font-weight="normal" fill="#111" stroke="#111" stroke-width="0.074" transform="rotate(-90 373.0 501.30)">0</text>
<line x1="377.20" y1="501.30" x2="379.00" y2="501.30" stroke="#000" stroke-width="0.9" />
<line x1="377.20" y1="496.00" x2="379.00" y2="496.00" stroke="#000" stroke-width="0.9" />
<line x1="377.20" y1="490.70" x2="379.00" y2="490.70" stroke="#000" stroke-width="0.9" />
<line x1="377.20" y1="485.40" x2="379.00" y2="485.40" stroke="#000" stroke-width="0.9" />
<line x1="377.20" y1="480.10" x2="379.00" y2="480.10" stroke="#000" stroke-width="0.9" />
<line x1="377.20" y1="474.80" x2="379.00" y2="474.80" stroke="#000" stroke-width="0.9" />
<line x1="377.20" y1="469.50" x2="379.00" y2="469.50" stroke="#000" stroke-width="0.9" />
<line x1="377.20" y1="464.20" x2="379.00" y2="464.20" stroke="#000" stroke-width="0.9" />
<line x1="377.20" y1="458.90" x2="379.00" y2="458.90" stroke="#000" stroke-width="0.9" />
<line x1="377.20" y1="453.60" x2="379.00" y2="453.60" stroke="#000" stroke-width="0.9" />
<line x1="377.20" y1="448.30" x2="379.00" y2="448.30" stroke="#000" stroke-width="0.9" />
<line x1="377.20" y1="443.00" x2="379.00" y2="443.00" stroke="#000" stroke-width="0.9" />
<line x1="377.20" y1="437.70" x2="379.00" y2="437.70" stroke="#000" stroke-width="0.9" />
<line x1="377.20" y1="432.40" x2="379.00" y2="432.40" stroke="#000" stroke-width="0.9" />
<line x1="377.20" y1="427.10" x2="379.00" y2="427.10" stroke="#000" stroke-width="0.9" />
<line x1="377.20" y1="421.80" x2="379.00" y2="421.80" stroke="#000" stroke-width="0.9" />
<line x1="377.20" y1="416.50" x2="379.00" y2="416.50" stroke="#000" stroke-width="0.9" />
<line x1="377.20" y1="411.20" x2="379.00" y2="411.20" stroke="#000" stroke-width="0.9" />
<line x1="377.20" y1="405.90" x2="379.00" y2="405.90" stroke="#000" stroke-width="0.9" />
<line x1="377.20" y1="400.60" x2="379.00" y2="400.60" stroke="#000" stroke-width="0.9" />
<line x1="377.20" y1="395.30" x2="379.00" y2="395.30" stroke="#000" stroke-width="0.9" />
<line x1="377.20" y1="390.00" x2="379.00" y2="390.00" stroke="#000" stroke-width="0.9" />
<line x1="377.20" y1="384.70" x2="379.00" y2="384.70" stroke="#000" stroke-width="0.9" />
<line x1="377.20" y1="379.40" x2="379.00" y2="379.40" stroke="#000" stroke-width="0.9" />
<line x1="377.20" y1="374.10" x2="379.00" y2="374.10" stroke="#000" stroke-width="0.9" />
<line x1="377.20" y1="368.80" x2="379.00" y2="368.80" stroke="#000" stroke-width="0.9" />
<text x="379.8" y="512.5" font-size="6.2" text-anchor="end" font-weight="normal" fill="#222" stroke="#222" stroke-width="0.087" >10</text>
<text x="380.0" y="509.6" font-size="4.6" text-anchor="start" font-weight="normal" fill="#222" stroke="#222" stroke-width="0.064" >0</text>
<line x1="389.30" y1="501.30" x2="389.30" y2="502.70" stroke="#000" stroke-width="0.8" />
<line x1="395.32" y1="501.30" x2="395.32" y2="502.70" stroke="#000" stroke-width="0.8" />
<line x1="399.59" y1="501.30" x2="399.59" y2="502.70" stroke="#000" stroke-width="0.8" />
<line x1="402.90" y1="501.30" x2="402.90" y2="502.70" stroke="#000" stroke-width="0.8" />
<line x1="405.61" y1="501.30" x2="405.61" y2="502.70" stroke="#000" stroke-width="0.8" />
<line x1="407.90" y1="501.30" x2="407.90" y2="502.70" stroke="#000" stroke-width="0.8" />
<line x1="409.89" y1="501.30" x2="409.89" y2="502.70" stroke="#000" stroke-width="0.8" />
<line x1="411.64" y1="501.30" x2="411.64" y2="502.70" stroke="#000" stroke-width="0.8" />
<line x1="379.00" y1="501.30" x2="379.00" y2="503.50" stroke="#000" stroke-width="0.9" />
<text x="414.0" y="512.5" font-size="6.2" text-anchor="end" font-weight="normal" fill="#222" stroke="#222" stroke-width="0.087" >10</text>
<text x="414.2" y="509.6" font-size="4.6" text-anchor="start" font-weight="normal" fill="#222" stroke="#222" stroke-width="0.064" >1</text>
<line x1="423.50" y1="501.30" x2="423.50" y2="502.70" stroke="#000" stroke-width="0.8" />
<line x1="429.52" y1="501.30" x2="429.52" y2="502.70" stroke="#000" stroke-width="0.8" />
<line x1="433.79" y1="501.30" x2="433.79" y2="502.70" stroke="#000" stroke-width="0.8" />
<line x1="437.10" y1="501.30" x2="437.10" y2="502.70" stroke="#000" stroke-width="0.8" />
<line x1="439.81" y1="501.30" x2="439.81" y2="502.70" stroke="#000" stroke-width="0.8" />
<line x1="442.10" y1="501.30" x2="442.10" y2="502.70" stroke="#000" stroke-width="0.8" />
<line x1="444.09" y1="501.30" x2="444.09" y2="502.70" stroke="#000" stroke-width="0.8" />
<line x1="445.84" y1="501.30" x2="445.84" y2="502.70" stroke="#000" stroke-width="0.8" />
<line x1="413.20" y1="501.30" x2="413.20" y2="503.50" stroke="#000" stroke-width="0.9" />
<text x="448.2" y="512.5" font-size="6.2" text-anchor="end" font-weight="normal" fill="#222" stroke="#222" stroke-width="0.087" >10</text>
<text x="448.4" y="509.6" font-size="4.6" text-anchor="start" font-weight="normal" fill="#222" stroke="#222" stroke-width="0.064" >2</text>
<line x1="457.70" y1="501.30" x2="457.70" y2="502.70" stroke="#000" stroke-width="0.8" />
<line x1="463.72" y1="501.30" x2="463.72" y2="502.70" stroke="#000" stroke-width="0.8" />
<line x1="467.99" y1="501.30" x2="467.99" y2="502.70" stroke="#000" stroke-width="0.8" />
<line x1="471.30" y1="501.30" x2="471.30" y2="502.70" stroke="#000" stroke-width="0.8" />
<line x1="474.01" y1="501.30" x2="474.01" y2="502.70" stroke="#000" stroke-width="0.8" />
<line x1="476.30" y1="501.30" x2="476.30" y2="502.70" stroke="#000" stroke-width="0.8" />
<line x1="478.29" y1="501.30" x2="478.29" y2="502.70" stroke="#000" stroke-width="0.8" />
<line x1="480.04" y1="501.30" x2="480.04" y2="502.70" stroke="#000" stroke-width="0.8" />
<line x1="447.40" y1="501.30" x2="447.40" y2="503.50" stroke="#000" stroke-width="0.9" />
<text x="482.4" y="512.5" font-size="6.2" text-anchor="end" font-weight="normal" fill="#222" stroke="#222" stroke-width="0.087" >10</text>
<text x="482.59999999999997" y="509.6" font-size="4.6" text-anchor="start" font-weight="normal" fill="#222" stroke="#222" stroke-width="0.064" >3</text>
<line x1="491.90" y1="501.30" x2="491.90" y2="502.70" stroke="#000" stroke-width="0.8" />
<line x1="497.92" y1="501.30" x2="497.92" y2="502.70" stroke="#000" stroke-width="0.8" />
<line x1="502.19" y1="501.30" x2="502.19" y2="502.70" stroke="#000" stroke-width="0.8" />
<line x1="505.50" y1="501.30" x2="505.50" y2="502.70" stroke="#000" stroke-width="0.8" />
<line x1="508.21" y1="501.30" x2="508.21" y2="502.70" stroke="#000" stroke-width="0.8" />
<line x1="510.50" y1="501.30" x2="510.50" y2="502.70" stroke="#000" stroke-width="0.8" />
<line x1="512.49" y1="501.30" x2="512.49" y2="502.70" stroke="#000" stroke-width="0.8" />
<line x1="514.24" y1="501.30" x2="514.24" y2="502.70" stroke="#000" stroke-width="0.8" />
<line x1="481.60" y1="501.30" x2="481.60" y2="503.50" stroke="#000" stroke-width="0.9" />
<text x="516.5999999999999" y="512.5" font-size="6.2" text-anchor="end" font-weight="normal" fill="#222" stroke="#222" stroke-width="0.087" >10</text>
<text x="516.8" y="509.6" font-size="4.6" text-anchor="start" font-weight="normal" fill="#222" stroke="#222" stroke-width="0.064" >4</text>
<line x1="515.80" y1="501.30" x2="515.80" y2="503.50" stroke="#000" stroke-width="0.9" />
<line x1="379.00" y1="368.80" x2="515.80" y2="368.80" stroke="#555" stroke-width="1.1" />
<line x1="515.80" y1="368.80" x2="515.80" y2="501.30" stroke="#555" stroke-width="1.1" />
<line x1="379.00" y1="501.30" x2="515.80" y2="501.30" stroke="#222" stroke-width="1.1" />
<line x1="379.00" y1="368.80" x2="379.00" y2="501.30" stroke="#111" stroke-width="1.5" />
<text x="434.5" y="521.0" font-size="8.5" text-anchor="start" font-weight="bold" fill="#000" >FITC</text>
<polyline points="379.5,466.0 380.3,460.8 382.0,451.5 383.8,440.0 384.4,436.0 386.0,430.0 387.3,423.2 388.6,416.4 389.0,410.5 389.5,404.5 390.7,398.6 392.5,394.5 393.3,400.0 394.5,405.4 396.3,410.5 397.5,417.3 398.8,424.0 399.6,430.8 399.9,436.8 401.8,442.7 403.4,451.5 405.7,460.8 408.0,473.5 410.9,481.5 412.6,487.3 416.0,489.6 419.0,490.0 421.8,491.3 424.0,493.6 426.5,494.2 429.0,492.3 432.2,492.5 435.7,493.7 438.8,495.8 443.0,497.0 448.0,499.2 456.0,500.6 470.0,501.3" fill="none" stroke="#111" stroke-width="1.1" stroke-linejoin="round" stroke-dasharray="2.6,1.8"/>
<polyline points="379.5,501.1 380.6,500.9 381.7,500.9 382.7,500.7 383.8,500.6 384.9,500.6 385.9,500.4 386.8,500.1 387.8,499.7 388.6,499.2 389.7,498.4 390.6,497.5 391.1,496.3 391.6,495.2 392.3,494.1 393.4,493.7 395.1,494.6 395.8,493.9 396.6,493.2 397.2,492.0 398.1,491.0 399.0,490.0 399.6,489.1 400.2,488.2 400.7,487.2 401.0,486.1 401.6,485.2 402.0,484.1 402.4,483.1 402.7,482.0 403.2,481.0 403.4,479.9 404.0,478.9 404.3,477.8 404.5,476.7 404.7,475.6 405.2,474.6 405.3,473.5 405.7,472.4 405.9,471.3 406.0,470.2 406.2,469.1 406.4,468.0 406.6,467.0 406.7,466.0 406.9,465.0 407.3,464.0 407.2,463.0 407.3,462.0 407.6,461.0 407.6,460.0 407.7,459.0 407.8,458.0 407.8,457.0 408.1,456.0 407.9,455.0 408.1,454.0 408.1,453.0 408.3,452.0 408.2,451.0 408.3,450.0 408.6,449.0 408.5,448.0 408.7,447.0 408.9,446.0 408.7,445.0 408.7,444.0 408.9,443.0 409.1,442.0 409.2,441.0 409.1,440.0 409.2,439.0 409.2,438.0 409.3,437.0 409.3,436.0 409.5,435.0 409.7,434.0 409.7,433.0 409.7,432.0 409.9,431.0 409.6,430.0 409.7,429.0 410.0,428.0 410.0,427.0 410.0,426.0 410.2,425.0 410.2,424.0 410.3,423.0 410.2,422.0 410.3,421.0 410.4,420.0 410.4,419.0 410.5,418.0 410.8,417.0 410.7,416.0 410.6,415.0 410.7,414.0 410.8,413.0 411.1,412.0 411.1,410.9 411.2,409.9 411.3,408.8 411.7,407.8 411.7,406.7 411.7,405.6 411.8,404.5 412.0,403.4 412.2,402.4 412.5,401.3 412.4,400.3 412.5,399.2 413.0,398.2 413.1,397.1 413.6,396.2 413.6,395.1 414.0,394.1 414.3,393.1 414.5,392.0 414.9,390.9 415.0,389.7 415.1,388.5 415.7,387.3 416.1,388.5 416.3,389.8 416.6,391.0 416.5,392.0 416.7,393.1 417.0,394.1 417.3,395.1 417.4,396.1 417.6,397.1 417.7,398.2 417.9,399.2 417.8,400.3 418.1,401.3 418.3,402.4 418.1,403.5 418.3,404.5 418.3,405.6 418.6,406.7 418.5,407.7 418.7,408.8 418.8,409.9 418.9,410.9 419.1,412.0 419.4,413.0 419.4,414.0 419.3,415.0 419.4,416.0 419.5,417.0 419.8,418.0 419.8,419.0 419.9,420.0 419.9,421.0 419.8,422.0 420.3,423.0 420.2,424.0 420.3,425.0 421.0,426.0 420.4,427.1 420.5,428.1 421.7,428.9 420.8,430.1 421.1,431.1 421.6,432.0 422.5,432.9 421.7,434.1 422.8,434.9 422.1,436.1 422.6,437.1 423.6,438.1 423.7,439.2 423.4,440.4 423.7,441.5 423.6,442.6 423.5,443.6 424.5,444.6 424.9,445.6 423.9,446.7 425.1,447.6 424.2,448.8 425.2,449.7 424.6,450.9 425.0,452.0 425.3,453.1 426.0,454.0 426.1,455.2 427.3,455.8 427.3,457.0 428.1,457.8 428.0,459.0 428.5,460.0 429.2,460.9 429.6,462.0 430.5,462.8 430.9,463.8 430.6,465.0 431.1,466.0 431.0,467.1 431.7,468.1 432.8,468.8 433.3,469.9 433.6,471.2 434.5,472.0 435.6,472.5 435.4,473.9 436.0,474.8 437.4,475.1 437.6,476.2 438.2,477.1 438.3,478.3 439.2,479.0 439.8,479.9 440.0,481.0 440.0,482.4 441.5,483.0 442.1,484.1 442.1,485.5 442.6,486.5 443.6,487.0 444.4,487.7 444.7,488.8 445.5,489.4 446.8,489.5 446.9,490.9 448.2,490.9 449.1,491.8 449.8,493.1 451.0,493.5 451.9,494.3 452.9,494.9 453.7,495.9 454.8,496.4 455.7,497.1 456.6,497.8 457.5,498.5 458.4,499.2 459.5,499.6 460.7,499.8 461.9,499.7 463.1,500.1 464.2,500.4 465.3,500.5 466.3,500.6 467.4,500.6 468.4,500.5 469.5,500.6 470.5,500.9 471.6,500.8 472.6,501.0 473.7,501.1 474.7,501.0 475.8,501.1 476.8,501.2 477.9,501.1 478.9,501.4 480.0,501.3" fill="none" stroke="#1a1a1a" stroke-width="0.95" stroke-linejoin="round" />
<polyline points="379.5,501.2 380.6,501.3 381.7,501.4 382.8,501.4 383.9,501.4 385.0,501.5 386.1,501.2 387.2,501.4 388.2,501.2 389.1,500.8 390.1,500.6 390.9,500.0 392.0,499.2 392.9,498.3 393.5,497.2 394.1,496.1 394.5,494.8 395.9,494.3 397.2,495.2 398.2,494.7 398.9,494.0 399.5,492.8 400.5,491.9 401.2,490.7 401.9,489.9 402.2,488.8 402.7,487.9 403.5,487.1 403.7,485.9 404.1,484.9 404.8,483.9 405.2,482.9 405.4,481.8 406.0,480.8 406.1,479.7 406.5,478.6 406.7,477.5 407.2,476.5 407.5,475.4 407.8,474.3 408.0,473.2 408.0,472.1 408.2,471.0 408.4,469.9 408.6,468.8 408.7,467.8 409.0,466.8 409.3,465.8 409.3,464.8 409.8,463.8 409.7,462.8 409.8,461.8 410.0,460.8 410.0,459.8 410.0,458.8 410.2,457.8 410.3,456.8 410.2,455.8 410.6,454.8 410.3,453.8 410.6,452.8 410.7,451.8 410.5,450.8 410.9,449.8 410.8,448.8 411.0,447.8 410.8,446.8 410.9,445.8 411.1,444.8 411.4,443.8 411.2,442.8 411.5,441.8 411.7,440.8 411.7,439.8 411.6,438.8 411.6,437.8 411.7,436.8 411.9,435.8 411.7,434.8 412.0,433.8 412.0,432.8 412.1,431.8 411.9,430.8 412.3,429.8 412.0,428.8 412.2,427.8 412.4,426.8 412.5,425.8 412.4,424.8 412.7,423.8 412.6,422.8 412.6,421.8 412.7,420.8 412.7,419.8 412.7,418.8 412.8,417.8 413.1,416.8 413.3,415.8 413.0,414.8 413.1,413.8 413.5,412.8 413.5,411.7 413.5,410.7 413.6,409.6 413.9,408.5 414.1,407.5 414.1,406.4 414.3,405.3 414.3,404.2 414.7,403.2 414.5,402.1 414.9,401.1 415.1,400.0 415.1,398.9 415.6,398.0 415.9,397.0 416.1,395.9 416.4,394.9 416.4,393.8 416.8,392.8 416.9,391.6 417.4,390.5 417.4,389.3 418.0,388.1 418.1,389.1 418.4,390.1 418.6,391.0 419.0,392.0 419.1,393.0 419.2,394.1 419.5,395.1 419.7,396.1 419.8,397.1 420.1,398.2 420.2,399.2 419.6,400.3 419.8,401.4 420.3,402.4 420.5,403.5 420.8,404.5 421.2,405.6 421.1,406.6 420.6,407.8 420.6,408.8 421.3,409.8 421.0,411.0 421.1,412.0 421.3,413.0 421.4,414.0 421.4,415.0 422.0,416.0 421.7,417.0 422.3,418.0 422.2,419.0 421.9,420.0 422.1,421.0 422.7,422.0 422.1,423.1 422.5,424.0 422.8,425.0 423.6,425.9 423.1,427.0 423.6,428.0 423.3,429.0 423.7,430.0 423.5,431.1 423.9,432.0 423.9,433.1 424.7,434.0 424.5,435.0 424.6,436.1 424.8,437.2 425.6,438.2 425.2,439.4 425.4,440.5 425.9,441.5 425.7,442.6 425.8,443.6 426.4,444.6 426.6,445.6 427.1,446.6 426.4,447.7 426.4,448.8 427.1,449.8 427.0,450.9 427.4,451.9 427.7,453.0 428.8,453.8 428.5,455.2 429.2,456.0 429.6,457.0 430.3,457.8 430.6,458.9 430.8,460.0 431.3,461.0 431.7,462.0 432.8,462.8 433.0,463.9 433.1,465.0 433.2,466.1 434.1,466.9 433.9,468.1 434.6,469.1 435.9,469.7 436.2,471.0 437.1,471.8 437.9,472.5 438.4,473.4 438.8,474.4 439.6,475.1 440.2,476.0 440.9,476.9 440.9,478.1 441.5,479.0 441.7,480.1 442.2,481.0 443.1,482.0 443.0,483.4 444.5,484.0 444.6,485.3 445.4,486.0 446.0,486.9 446.9,487.4 447.0,488.8 448.2,489.1 449.2,489.4 449.5,490.6 450.4,491.1 451.3,492.0 452.3,492.7 453.3,493.5 454.1,494.4 455.1,495.1 456.1,495.8 457.0,496.6 457.9,497.2 458.9,497.8 459.9,498.4 460.7,499.2 461.9,499.5 463.0,499.8 464.1,500.1 465.3,500.2 466.5,500.3 467.5,500.6 468.6,500.4 469.6,500.5 470.7,500.7 471.7,500.8 472.7,500.7 473.8,500.9 474.8,501.1 475.8,501.0 476.9,501.1 477.9,501.1 479.0,501.2 480.0,501.3" fill="none" stroke="#1a1a1a" stroke-width="0.95" stroke-linejoin="round" />
<text x="404.3" y="378.2" font-size="8.6" text-anchor="start" font-weight="normal" fill="#000" stroke="#000" stroke-width="0.12" >Basal</text>
<text x="430.3" y="393.9" font-size="8.8" text-anchor="start" font-weight="normal" fill="#5a5a5a" stroke="#5a5a5a" stroke-width="0.123" >+ Go 6850 + SDF-1</text>
<text x="448.5" y="427.2" font-size="8.6" text-anchor="start" font-weight="normal" fill="#000" stroke="#000" stroke-width="0.12" >+ SDF-1</text>
<line x1="401.80" y1="377.10" x2="395.70" y2="388.10" stroke="#000" stroke-width="1" stroke-dasharray="2,1.3" marker-end="url(#arr)"/>
<line x1="440.20" y1="397.30" x2="427.50" y2="403.50" stroke="#666" stroke-width="0.9" marker-end="url(#arrg)"/>
<line x1="449.30" y1="427.50" x2="426.40" y2="449.00" stroke="#000" stroke-width="0.9" />
</svg>
</body></html>
